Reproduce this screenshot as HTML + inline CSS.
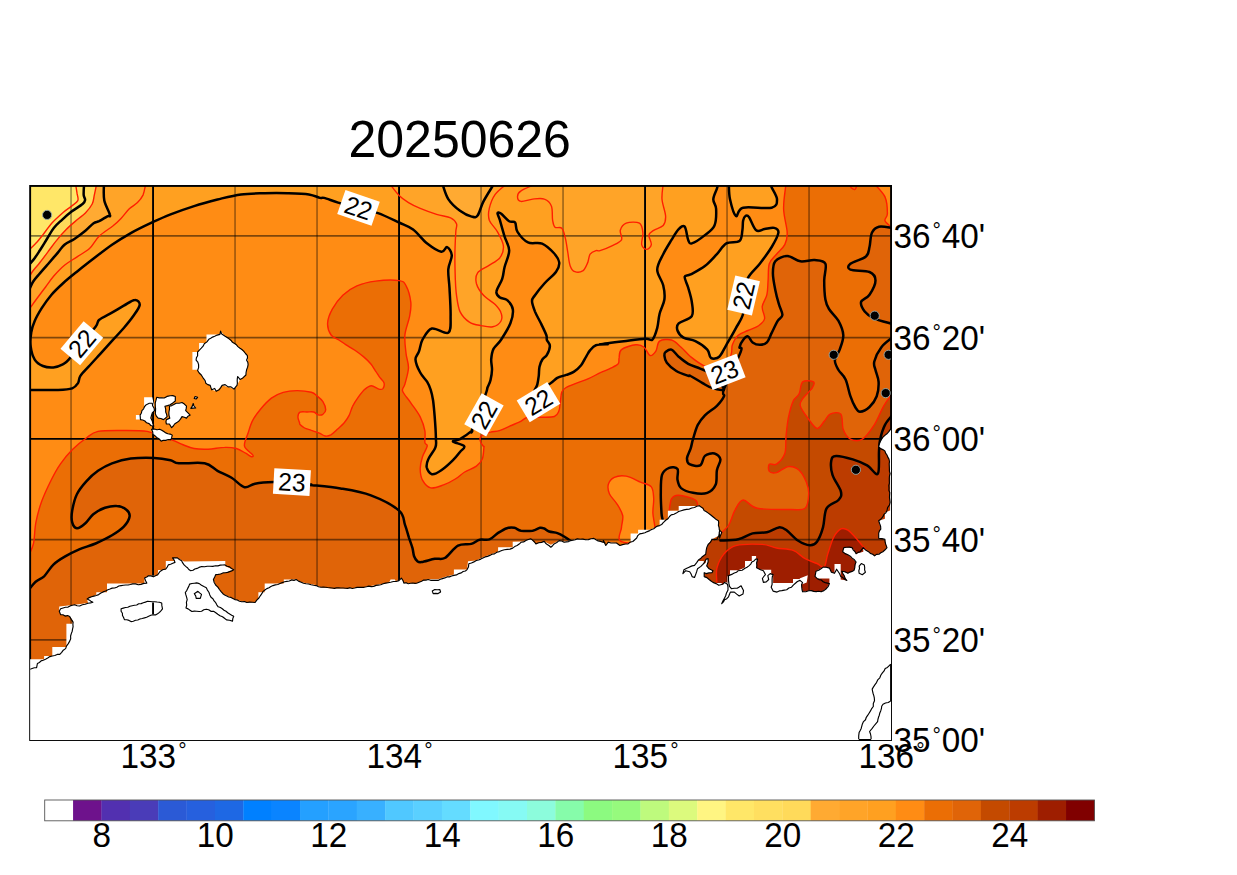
<!DOCTYPE html><html><head><meta charset="utf-8"><title>20250626</title>
<style>html,body{margin:0;padding:0;background:#fff}svg{display:block}text{font-family:"Liberation Sans",Arial,Helvetica,sans-serif;fill:#000}</style></head><body>
<svg width="1237" height="875" viewBox="0 0 1237 875">
<rect width="1237" height="875" fill="#fff"/>
<defs><clipPath id="mc"><rect x="30.15" y="185.95" width="860.9" height="554.05"/></clipPath></defs>
<g clip-path="url(#mc)">
<rect x="30.15" y="185.95" width="860.9" height="554.05" fill="#FF8C14"/>
<path d="M30.0,389.9 C34.7,389.9 51.1,390.2 58.1,389.9 C65.2,389.7 68.9,389.5 72.2,388.3 C75.5,387.1 76.7,385.0 78.1,382.9 C79.4,380.8 78.6,378.6 80.4,375.9 C82.2,373.2 85.3,370.3 88.6,366.7 C91.9,363.0 96.4,358.1 100.3,353.8 C104.2,349.5 108.1,345.2 112.0,340.9 C116.0,336.6 120.2,332.1 123.8,328.0 C127.3,323.9 130.5,320.1 133.1,316.3 C135.8,312.4 139.4,307.8 139.7,305.0 C140.0,302.3 137.4,299.7 134.8,299.9 C132.1,300.0 127.9,303.4 123.8,305.7 C119.6,308.1 113.8,311.6 109.7,313.9 C105.6,316.3 101.5,317.6 99.2,319.8 C96.8,321.9 98.6,323.0 95.6,326.8 C92.7,330.6 86.1,337.3 81.6,342.8 C77.1,348.2 71.8,356.0 68.7,359.6 C65.6,363.2 65.4,363.0 62.8,364.3 C60.3,365.6 56.8,367.1 53.4,367.4 C50.1,367.6 46.0,367.3 42.9,366.0 C39.8,364.7 36.7,362.8 34.7,359.6 C32.7,356.4 31.3,351.2 30.7,346.7 C30.1,342.3 30.5,337.0 31.2,332.7 C31.8,328.4 32.9,325.1 34.7,321.0 C36.4,316.9 39.0,312.4 41.7,308.1 C44.5,303.8 47.6,299.3 51.1,295.2 C54.6,291.1 58.5,287.4 62.8,283.5 C67.1,279.5 71.8,275.8 76.9,271.7 C82.0,267.6 87.4,263.3 93.3,258.8 C99.2,254.3 105.8,249.1 112.0,244.8 C118.3,240.5 124.2,236.8 130.8,233.1 C137.4,229.3 145.3,225.6 151.9,222.5 C158.5,219.4 163.6,217.0 170.6,214.3 C177.7,211.6 186.3,208.6 194.1,206.1 C201.9,203.6 209.7,201.5 217.5,199.5 C225.3,197.6 233.2,195.4 241.0,194.4 C248.8,193.3 256.6,193.4 264.4,193.2 C272.2,193.0 280.4,193.0 287.9,193.2 C295.3,193.4 303.6,193.6 308.9,194.4 C314.3,195.2 317.4,197.3 320.0,197.9 C322.5,198.5 321.0,197.1 324.1,197.9 C327.1,198.7 332.4,200.8 338.1,202.6 C343.9,204.3 351.9,206.7 358.5,208.4 C365.2,210.2 371.2,210.8 378.0,213.1 C384.7,215.5 393.2,219.8 399.1,222.5 C404.9,225.2 408.5,226.0 413.1,229.5 C417.8,233.1 422.5,239.9 427.2,243.6 C431.9,247.3 437.9,251.2 441.3,251.8 C444.6,252.4 445.4,246.5 447.1,247.1 C448.9,247.7 451.6,251.6 451.8,255.3 C452.0,259.0 448.7,263.9 448.3,269.4 C447.9,274.9 449.1,280.3 449.5,288.1 C449.9,296.0 450.8,308.8 450.6,316.3 C450.5,323.7 451.4,330.6 448.3,332.7 C445.2,334.7 436.2,327.3 431.9,328.5 C427.6,329.6 424.7,335.9 422.5,339.7 C420.4,343.5 420.2,348.1 419.0,351.4 C417.8,354.8 415.3,356.1 415.5,359.6 C415.7,363.2 418.2,368.8 420.2,372.5 C422.1,376.2 425.4,379.0 427.2,381.9 C429.0,384.8 429.7,386.8 430.7,389.9 C431.7,393.0 432.4,396.0 433.1,400.5 C433.7,405.0 434.2,410.6 434.7,416.9 C435.2,423.1 435.8,432.9 435.9,438.0 C436.0,443.1 436.7,443.8 435.4,447.4 C434.2,450.9 429.8,455.8 428.4,459.1 C426.9,462.4 426.2,464.7 426.7,467.3 C427.3,469.8 429.5,473.8 431.9,474.3 C434.3,474.8 437.8,472.7 441.3,470.3 C444.8,468.0 449.9,463.3 453.0,460.2 C456.1,457.2 458.1,454.4 460.0,452.0 C461.9,449.7 465.4,447.9 464.2,446.2 C463.1,444.4 453.7,442.7 453.0,441.5 C452.3,440.3 456.9,440.9 460.0,439.2 C463.1,437.4 469.8,432.5 471.7,430.9 C473.7,429.4 469.7,435.9 471.9,429.9 C474.2,423.9 482.7,402.0 485.3,395.0 C487.9,387.9 486.7,390.0 487.5,387.5 C488.4,385.1 489.8,383.1 490.5,380.1 C491.2,377.1 491.9,373.2 492.0,369.7 C492.1,366.2 491.0,362.8 491.2,359.3 C491.5,355.8 491.9,352.1 493.5,348.9 C495.1,345.7 498.1,344.3 500.9,340.0 C503.7,335.7 508.4,328.4 510.4,323.3 C512.4,318.2 513.4,313.1 512.8,309.2 C512.2,305.3 509.1,301.8 506.9,299.9 C504.8,297.9 501.6,298.9 499.9,297.5 C498.1,296.2 496.0,294.8 496.4,291.7 C496.7,288.5 500.9,282.9 502.2,278.8 C503.6,274.7 503.4,271.7 504.6,267.0 C505.7,262.4 509.2,255.7 509.2,250.6 C509.2,245.6 506.1,241.6 504.6,236.6 C503.0,231.5 501.0,224.1 499.9,220.2 C498.7,216.3 497.3,214.2 497.5,213.1 C497.7,212.0 499.1,212.2 501.0,213.6 C503.0,215.0 506.9,219.8 509.2,221.3 C511.6,222.8 513.7,220.7 515.1,222.5 C516.5,224.3 515.3,228.6 517.5,231.9 C519.6,235.2 523.9,240.5 528.0,242.4 C532.1,244.4 537.8,241.8 542.1,243.6 C546.4,245.4 550.9,249.9 553.8,253.0 C556.6,256.1 558.8,259.2 559.2,262.4 C559.6,265.5 558.6,268.2 556.1,271.7 C553.7,275.2 547.9,279.5 544.4,283.5 C540.9,287.4 537.1,292.2 535.0,295.2 C533.0,298.1 532.0,298.3 532.0,301.0 C532.0,303.8 533.6,307.9 535.0,311.6 C536.5,315.3 539.0,319.4 540.9,323.3 C542.8,327.2 545.3,332.2 546.3,335.0 C547.3,337.8 546.3,338.2 546.9,340.0 C547.5,341.8 549.9,343.5 549.9,345.9 C549.9,348.4 548.2,352.6 546.9,354.9 C545.7,357.1 543.7,357.3 542.5,359.3 C541.2,361.3 540.1,364.0 539.5,366.7 C538.9,369.5 539.1,372.7 538.8,375.6 C538.4,378.6 537.9,382.0 537.3,384.6 C536.7,387.2 533.0,391.4 535.1,391.2 C537.2,391.1 546.2,386.0 549.9,383.8 C553.6,381.6 554.6,379.4 557.3,377.9 C560.1,376.4 563.5,375.9 566.2,374.9 C569.0,373.9 571.2,373.5 573.7,371.9 C576.1,370.3 579.0,367.8 581.1,365.2 C583.2,362.6 584.8,358.8 586.3,356.3 C587.8,353.9 588.4,352.3 590.0,350.4 C591.6,348.5 593.0,346.2 595.9,345.2 C598.9,344.2 607.2,344.3 607.8,344.2 C608.5,344.0 597.3,344.8 600.0,344.3 C602.7,343.8 616.3,342.1 623.8,341.2 C631.4,340.3 640.5,339.1 645.3,338.8 C650.1,338.5 650.5,341.3 652.5,339.5 C654.5,337.8 656.0,332.4 657.2,328.1 C658.4,323.8 658.4,318.6 659.6,313.8 C660.8,309.0 663.8,304.2 664.4,299.5 C665.0,294.7 664.4,290.1 663.2,285.2 C662.0,280.2 657.2,274.8 657.2,269.7 C657.2,264.5 660.8,259.1 663.2,254.2 C665.6,249.2 669.0,244.0 671.5,239.9 C674.1,235.7 676.5,231.3 678.7,229.1 C680.9,226.9 683.1,224.9 684.7,226.7 C686.3,228.5 687.0,237.1 688.2,239.9 C689.4,242.6 689.0,244.2 691.8,243.4 C694.6,242.6 701.2,238.1 704.9,235.1 C708.7,232.1 712.6,229.9 714.5,225.5 C716.3,221.2 716.3,213.2 716.1,208.8 C715.9,204.5 713.2,202.7 713.3,199.3 C713.4,195.9 716.1,191.2 716.9,188.6 C717.7,186.0 717.9,184.6 718.1,183.8 L718.1,180.9 L25.1,180.9 L25.1,389.9Z" fill="#FFA020"/>
<path d="M745.5,216.0 C746.5,215.4 747.3,214.8 749.1,217.2 C750.8,219.6 753.6,228.3 756.2,230.3 C758.8,232.3 761.6,229.5 764.6,229.1 C767.5,228.7 771.8,227.3 774.1,227.9 C776.4,228.5 778.8,229.5 778.4,232.7 C778.0,235.9 774.8,241.8 771.7,247.0 C768.6,252.2 763.8,258.5 759.8,263.7 C755.8,268.9 750.6,272.7 747.9,278.0 C745.2,283.3 744.4,289.7 743.6,295.7 C742.8,301.6 744.4,308.4 743.1,313.8 C741.8,319.2 738.7,322.9 735.9,328.1 C733.2,333.3 729.2,340.0 726.4,344.8 C723.6,349.6 721.8,354.5 719.2,356.7 C716.7,358.9 712.9,359.1 710.9,357.9 C708.9,356.7 709.9,352.3 707.3,349.6 C704.7,346.8 699.4,343.2 695.4,341.2 C691.4,339.2 686.5,339.4 683.5,337.6 C680.5,335.8 678.3,332.9 677.5,330.5 C676.7,328.1 676.3,325.7 678.7,323.3 C681.1,320.9 689.6,319.7 691.8,316.2 C694.0,312.6 692.4,306.6 691.8,301.9 C691.2,297.1 689.4,291.7 688.2,287.6 C687.0,283.4 684.3,279.0 684.7,276.8 C685.1,274.6 687.2,276.2 690.6,274.4 C694.0,272.6 700.6,269.5 704.9,266.1 C709.3,262.7 713.3,257.9 716.9,254.2 C720.4,250.4 722.6,245.6 726.4,243.4 C730.2,241.2 736.9,243.2 739.5,241.0 C742.2,238.9 741.8,233.7 742.4,230.3 C743.0,226.9 742.6,223.2 743.1,220.8 C743.6,218.4 744.5,216.6 745.5,216.0Z" fill="#FFA020"/>
<path d="M728.8,183.8 C729.0,186.4 728.8,193.9 730.0,199.3 C731.2,204.7 733.8,214.6 735.9,216.0 C738.1,217.4 737.1,209.0 743.1,207.7 C749.1,206.3 766.1,209.0 771.7,207.7 C777.4,206.3 777.0,202.7 777.0,199.3 C777.0,195.9 772.8,190.0 771.7,187.4 C770.6,184.8 770.7,184.4 770.5,183.8Z" fill="#FFA020"/>
<path d="M145.4,185.5 C145.0,187.1 144.3,192.2 143.0,195.1 C141.6,197.9 139.8,200.3 137.5,202.6 C135.2,204.9 132.0,206.2 129.3,208.8 C126.5,211.4 123.8,215.6 121.0,218.4 C118.3,221.3 116.4,223.0 112.8,226.0 C109.1,228.9 103.0,232.5 99.1,236.2 C95.2,240.0 93.1,245.2 89.5,248.6 C85.8,252.0 81.2,254.1 77.1,256.8 C73.0,259.6 68.7,261.8 64.8,265.0 C60.9,268.2 57.0,272.4 53.8,276.0 C50.6,279.7 48.3,283.3 45.6,287.0 C42.8,290.7 39.9,294.5 37.3,298.0 C34.7,301.5 31.2,306.4 30.0,308.1 L25.1,308.1 L25.1,180.9 L145.4,180.9Z" fill="#FFA428"/>
<path d="M389.7,183.8 C391.3,185.8 396.0,192.4 399.1,195.5 C402.2,198.7 404.9,200.4 408.5,202.6 C412.0,204.7 415.5,206.5 420.2,208.4 C424.9,210.4 431.5,212.7 436.6,214.3 C441.7,215.9 447.3,216.3 450.6,217.8 C454.0,219.4 455.6,221.3 456.5,223.7 C457.4,226.0 456.1,226.6 455.8,231.9 C455.5,237.2 454.9,247.5 454.9,255.3 C454.8,263.1 455.1,272.1 455.3,278.8 C455.6,285.4 455.7,289.7 456.5,295.2 C457.3,300.6 457.9,307.1 460.0,311.6 C462.2,316.1 465.9,319.8 469.4,322.1 C472.9,324.5 477.2,324.9 481.1,325.6 C485.0,326.4 489.5,327.6 492.8,326.8 C496.2,326.0 499.7,323.3 501.0,321.0 C502.4,318.6 502.0,315.5 501.0,312.8 C500.1,310.0 498.1,307.5 495.2,304.5 C492.3,301.6 486.6,298.7 483.5,295.2 C480.3,291.7 477.4,287.2 476.4,283.5 C475.5,279.7 475.7,275.8 477.6,272.9 C479.6,270.0 484.4,268.4 488.2,265.9 C491.9,263.3 497.3,261.0 499.9,257.7 C502.4,254.3 503.8,250.2 503.4,245.9 C503.0,241.6 499.9,236.2 497.5,231.9 C495.2,227.6 490.7,224.1 489.3,220.2 C488.0,216.3 488.3,212.7 489.3,208.4 C490.3,204.1 492.3,198.5 495.2,194.4 C498.1,190.3 505.0,185.6 506.9,183.8Z" fill="#FFA428"/>
<path d="M536.2,183.8 C533.7,185.0 524.1,188.7 521.0,190.9 C517.8,193.0 517.5,195.0 517.5,196.7 C517.5,198.5 518.4,201.0 521.0,201.4 C523.5,201.8 528.8,199.5 532.7,199.1 C536.6,198.7 541.3,197.9 544.4,199.1 C547.5,200.2 550.1,202.6 551.4,206.1 C552.8,209.6 552.0,216.6 552.6,220.2 C553.2,223.7 553.4,225.8 555.0,227.2 C556.5,228.6 560.2,226.4 562.0,228.4 C563.8,230.3 564.5,234.8 565.5,238.9 C566.5,243.0 567.1,248.5 567.9,253.0 C568.6,257.5 569.0,262.7 570.2,265.9 C571.4,269.0 572.7,271.0 574.9,271.7 C577.0,272.5 580.9,272.1 583.1,270.6 C585.2,269.0 586.6,265.1 587.8,262.4 C588.9,259.6 588.8,256.1 590.1,254.2 C591.5,252.2 594.3,251.2 596.0,250.6 C597.6,250.0 597.3,251.4 600.0,250.6 C602.7,249.8 608.3,247.6 611.9,245.8 C615.5,244.0 620.1,242.4 621.5,239.9 C622.9,237.3 619.5,233.1 620.3,230.3 C621.1,227.5 623.1,224.4 626.2,223.2 C629.4,222.0 636.6,221.6 639.4,223.2 C642.1,224.7 642.5,229.1 642.9,232.7 C643.3,236.3 641.1,241.8 641.7,244.6 C642.3,247.4 644.9,249.4 646.5,249.4 C648.1,249.4 650.9,247.0 651.3,244.6 C651.7,242.2 648.5,237.5 648.9,235.1 C649.3,232.7 651.3,231.9 653.7,230.3 C656.0,228.7 661.2,227.9 663.2,225.5 C665.2,223.2 665.8,220.4 665.6,216.0 C665.4,211.6 662.4,204.7 662.0,199.3 C661.6,193.9 663.0,186.4 663.2,183.8Z" fill="#FFA428"/>
<path d="M103.9,185.5 C103.9,188.0 103.3,195.7 104.3,200.6 C105.3,205.5 109.5,212.4 110.0,215.0 C110.6,217.6 109.1,215.3 107.3,216.4 C105.5,217.4 101.4,220.0 99.1,221.2 C96.8,222.3 95.9,221.6 93.6,223.2 C91.3,224.8 88.6,228.1 85.4,230.8 C82.2,233.4 77.8,236.7 74.4,239.0 C71.0,241.3 67.8,242.0 64.8,244.5 C61.8,247.0 59.3,250.9 56.6,254.1 C53.8,257.3 51.3,260.2 48.3,263.7 C45.3,267.1 41.2,271.7 38.7,274.7 C36.2,277.6 34.7,279.2 33.2,281.5 C31.7,283.8 30.4,287.2 29.8,288.4 L25.1,288.4 L25.1,180.9Z" fill="#FFAA32"/>
<path d="M442.4,183.8 C443.4,186.4 445.4,194.6 448.3,199.1 C451.2,203.6 456.1,207.9 460.0,210.8 C463.9,213.7 468.8,215.9 471.7,216.6 C474.7,217.4 475.7,218.0 477.6,215.5 C479.6,212.9 480.7,206.7 483.5,201.4 C486.2,196.1 492.3,186.8 494.0,183.8Z" fill="#FFAA32"/>
<path d="M96.3,185.5 C96.0,187.1 95.0,192.0 94.3,195.1 C93.6,198.2 93.7,201.0 92.2,204.0 C90.7,207.0 87.9,210.3 85.4,212.9 C82.8,215.6 80.3,217.0 77.1,219.8 C73.9,222.5 69.6,226.0 66.2,229.4 C62.7,232.8 59.5,236.7 56.6,240.4 C53.6,244.0 51.1,247.7 48.3,251.3 C45.6,255.0 42.6,259.1 40.1,262.3 C37.6,265.5 34.9,268.2 33.2,270.5 C31.5,272.8 30.4,275.1 29.8,276.0 L25.1,276.0 L25.1,180.9Z" fill="#FFDA5A"/>
<path d="M84.0,185.5 C83.9,187.1 83.5,192.7 83.7,195.1 C83.9,197.5 85.3,198.4 85.1,199.9 C84.9,201.4 84.9,202.1 82.6,204.0 C80.4,205.9 75.1,208.9 71.6,211.6 C68.2,214.2 65.0,217.0 62.0,219.8 C59.1,222.5 56.3,224.8 53.8,228.0 C51.3,231.2 49.2,235.3 46.9,239.0 C44.7,242.6 42.1,246.8 40.1,250.0 C38.0,253.2 36.3,255.9 34.6,258.2 C32.9,260.5 30.6,263.0 29.8,264.0 L25.1,264.0 L25.1,180.9Z" fill="#FFDF60"/>
<path d="M75.8,185.5 C76.0,186.9 76.8,191.2 77.1,193.7 C77.5,196.2 78.7,198.5 77.8,200.6 C76.9,202.6 74.0,204.1 71.6,206.1 C69.2,208.0 66.6,209.5 63.4,212.2 C60.2,215.0 55.9,218.8 52.4,222.5 C49.0,226.3 45.3,231.7 42.8,234.9 C40.3,238.1 39.5,239.3 37.3,241.7 C35.2,244.1 31.1,248.0 29.8,249.3 L25.1,249.3 L25.1,180.9Z" fill="#FFE768"/>
<path d="M28.8,555.2 C29.6,553.2 32.3,548.9 33.5,543.5 C34.7,538.0 34.5,529.4 35.9,522.4 C37.2,515.3 39.2,508.3 41.7,501.3 C44.3,494.2 48.0,486.4 51.1,480.2 C54.2,473.9 57.0,468.8 60.5,463.8 C64.0,458.7 67.9,454.0 72.2,449.7 C76.5,445.4 82.0,441.0 86.3,438.0 C90.6,434.9 91.7,432.7 98.0,431.4 C104.2,430.2 115.6,430.5 123.8,430.5 C132.0,430.5 141.0,430.4 147.2,431.4 C153.5,432.5 157.0,435.3 161.3,436.8 C165.6,438.3 169.5,439.0 173.0,440.3 C176.5,441.6 178.9,443.2 182.4,444.5 C185.9,445.9 189.8,447.7 194.1,448.5 C198.4,449.3 203.1,449.4 208.2,449.2 C213.2,449.0 219.9,447.5 224.6,447.4 C229.2,447.2 232.8,447.6 236.3,448.5 C239.8,449.5 243.1,451.8 245.7,453.2 C248.2,454.6 250.3,456.5 251.5,456.7 C252.7,457.0 253.9,456.6 252.7,454.9 C251.5,453.1 245.3,449.8 244.5,446.2 C243.7,442.6 246.6,437.6 248.0,433.3 C249.4,429.0 250.5,424.5 252.7,420.4 C254.8,416.3 257.8,412.4 260.9,408.7 C264.0,405.0 267.7,400.9 271.4,398.1 C275.2,395.4 278.9,393.5 283.2,392.3 C287.5,391.0 292.5,390.6 297.2,390.6 C301.9,390.6 308.0,391.4 311.3,392.3 C314.6,393.2 315.2,394.4 317.1,396.0 C319.1,397.6 321.4,399.4 322.9,401.7 C324.3,404.0 325.7,407.6 325.7,409.7 C325.7,411.8 324.1,413.4 322.9,414.3 C321.6,415.1 319.8,415.2 318.3,414.9 C316.8,414.5 315.6,412.5 313.7,412.0 C311.8,411.5 309.1,412.0 306.9,412.0 C304.6,412.0 301.5,411.4 300.0,412.2 C298.5,413.0 298.0,415.1 297.9,416.9 C297.9,418.6 299.2,421.5 299.6,422.7 C299.9,424.0 299.2,423.7 300.0,424.6 C300.8,425.4 302.7,427.0 304.6,428.0 C306.5,429.0 309.0,429.4 311.4,430.3 C313.9,431.1 317.1,432.2 319.4,433.1 C321.7,434.1 323.2,435.7 325.1,436.0 C327.0,436.3 328.8,436.0 330.9,434.9 C333.0,433.7 335.4,431.2 337.7,429.1 C340.0,427.0 342.7,424.6 344.6,422.3 C346.5,420.0 347.8,418.1 349.1,415.4 C350.5,412.8 351.0,409.3 352.6,406.3 C354.1,403.2 356.2,400.0 358.3,397.1 C360.4,394.3 363.0,391.0 365.1,389.1 C367.3,387.2 369.1,385.7 371.4,385.7 C373.7,385.7 377.0,388.7 378.9,389.1 C380.8,389.6 382.0,389.6 382.9,388.6 C383.7,387.5 384.5,384.7 384.0,382.9 C383.5,381.0 381.4,379.7 380.0,377.7 C378.6,375.7 377.0,373.1 375.4,370.9 C373.9,368.6 372.8,366.3 370.9,364.0 C369.0,361.7 366.7,359.4 364.0,357.1 C361.3,354.9 357.9,352.4 354.9,350.3 C351.8,348.2 348.4,346.3 345.7,344.6 C343.0,342.9 341.3,341.6 338.9,340.0 C336.4,338.4 333.0,337.8 331.1,335.0 C329.2,332.2 327.4,327.6 327.6,323.3 C327.8,319.0 329.7,313.9 332.3,309.2 C334.8,304.5 338.7,299.1 342.8,295.2 C346.9,291.3 351.4,288.1 356.9,285.8 C362.4,283.5 368.6,282.0 375.6,281.1 C382.7,280.2 394.0,279.9 399.1,280.6 C404.2,281.4 404.2,282.2 406.1,285.8 C408.1,289.4 410.2,297.1 410.8,302.2 C411.4,307.3 410.6,310.8 409.6,316.3 C408.6,321.7 405.5,328.8 404.9,335.0 C404.4,341.3 405.5,348.3 406.1,353.8 C406.7,359.2 408.6,362.8 408.5,367.8 C408.3,372.9 405.9,380.4 404.9,384.2 C404.0,388.1 401.6,388.0 402.6,391.1 C403.6,394.2 407.9,398.5 410.8,402.8 C413.7,407.1 417.8,412.2 420.2,416.9 C422.5,421.6 424.1,426.6 424.9,430.9 C425.6,435.2 424.5,440.1 424.9,442.7 C425.3,445.2 427.6,443.8 427.2,446.2 C426.8,448.5 423.7,453.0 422.5,456.7 C421.3,460.4 420.2,464.5 420.2,468.5 C420.2,472.4 420.8,476.9 422.5,480.2 C424.3,483.4 427.2,487.1 430.7,487.9 C434.2,488.7 439.5,486.3 443.6,484.9 C447.7,483.4 451.8,481.2 455.3,479.0 C458.9,476.9 461.2,474.1 464.7,472.0 C468.2,469.8 473.5,468.3 476.4,466.1 C479.4,464.0 481.0,462.2 482.3,459.1 C483.5,456.0 483.7,449.4 483.9,447.4 C484.2,445.3 484.3,447.7 483.8,446.9 C483.3,446.1 481.5,444.0 480.8,442.5 C480.2,441.0 479.9,439.3 480.1,438.0 C480.3,436.8 480.6,436.0 482.3,435.1 C484.1,434.1 487.7,432.8 490.5,432.1 C493.3,431.3 496.2,431.6 499.4,430.6 C502.6,429.6 506.3,427.6 509.8,426.1 C513.3,424.7 517.2,423.2 520.2,421.7 C523.2,420.2 524.2,418.0 527.6,417.2 C531.1,416.5 536.5,417.4 541.0,417.2 C545.5,417.1 551.4,417.5 554.4,416.5 C557.3,415.5 557.8,413.6 558.8,411.3 C559.8,408.9 559.8,405.6 560.3,402.4 C560.8,399.2 560.8,394.5 561.8,392.0 C562.8,389.5 563.8,389.0 566.2,387.5 C568.7,386.0 572.9,384.6 576.6,383.1 C580.4,381.6 584.6,380.3 588.5,378.6 C592.5,376.9 596.7,374.4 600.4,372.7 C604.1,370.9 607.8,369.7 610.8,368.2 C613.8,366.7 616.8,365.5 618.2,363.8 C619.6,362.0 618.5,360.3 619.1,357.9 C619.6,355.5 618.7,351.7 621.5,349.6 C624.2,347.4 632.0,345.2 635.8,344.8 C639.6,344.4 641.7,345.4 644.1,347.2 C646.5,349.0 648.1,354.9 650.1,355.5 C652.1,356.1 654.5,353.1 656.0,350.8 C657.6,348.4 657.0,343.0 659.6,341.2 C662.2,339.4 668.0,339.0 671.5,340.0 C675.1,341.0 677.9,344.4 681.1,347.2 C684.3,350.0 686.7,353.5 690.6,356.7 C694.6,359.9 699.3,363.7 704.9,366.3 C710.6,368.8 720.1,374.2 724.5,372.2 C728.9,370.2 729.9,358.9 731.2,354.3 C732.5,349.8 731.2,348.0 732.4,344.8 C733.6,341.6 735.7,337.6 738.3,335.3 C740.9,332.9 744.5,332.1 747.9,330.5 C751.2,328.9 755.8,327.7 758.6,325.7 C761.4,323.7 764.0,321.7 764.6,318.6 C765.2,315.4 761.8,310.6 762.2,306.6 C762.6,302.7 766.0,299.1 766.9,294.7 C767.9,290.3 767.7,285.6 768.1,280.4 C768.5,275.2 767.9,268.1 769.3,263.7 C770.7,259.3 773.9,257.3 776.5,254.2 C779.1,251.0 783.0,248.2 784.8,244.6 C786.6,241.0 787.4,238.7 787.2,232.7 C787.0,226.7 783.8,217.0 783.6,208.8 C783.4,200.7 785.6,188.0 786.0,183.8 L896.0,180.9 L896.0,745.0 L25.1,745.0 L25.1,555.2Z" fill="#EB6E05"/>
<path d="M874.3,183.8 C876.1,186.0 882.8,192.0 885.0,196.9 C887.2,201.9 887.4,209.6 887.4,213.6 C887.4,217.6 884.2,218.4 885.0,220.8 C885.8,223.2 891.0,226.7 892.2,227.9 L896.0,180.9Z" fill="#FF8C14"/>
<path d="M608.3,484.5 C609.1,481.7 611.3,478.7 614.3,477.3 C617.3,475.9 621.9,475.3 626.2,476.1 C630.6,476.9 636.4,480.3 640.5,482.1 C644.7,483.9 649.1,484.1 651.3,486.9 C653.5,489.6 653.4,494.4 653.7,498.8 C653.9,503.2 652.7,508.3 652.9,513.1 C653.1,517.9 654.6,522.6 654.9,527.4 C655.1,532.2 659.9,539.3 654.4,541.7 C648.8,544.1 626.9,544.1 621.5,541.7 C616.0,539.3 621.3,531.8 621.5,527.4 C621.7,523.0 623.5,519.5 622.7,515.5 C621.9,511.5 618.9,507.1 616.7,503.6 C614.5,500.0 610.9,497.2 609.5,494.0 C608.1,490.8 607.6,487.3 608.3,484.5Z" fill="#FF8C14"/>
<path d="M26.2,592.9 C27.8,591.1 32.8,584.5 35.7,581.7 C38.7,579.0 41.1,579.1 44.1,576.3 C47.0,573.4 49.9,567.9 53.4,564.6 C57.0,561.2 60.9,558.9 65.2,556.4 C69.5,553.8 74.1,551.5 79.2,549.3 C84.3,547.2 90.2,545.8 95.6,543.5 C101.1,541.1 107.4,538.1 112.0,535.3 C116.7,532.4 120.8,529.7 123.8,526.6 C126.7,523.5 129.2,519.4 129.6,516.5 C130.0,513.7 128.3,511.2 126.1,509.5 C124.0,507.7 120.2,506.2 116.7,506.0 C113.2,505.7 108.9,506.5 105.0,507.8 C101.1,509.2 96.6,511.5 93.3,514.2 C90.0,516.8 87.8,521.2 85.1,523.5 C82.4,525.9 79.0,528.4 76.9,528.2 C74.7,528.0 73.0,525.3 72.2,522.4 C71.4,519.4 71.4,515.3 72.2,510.6 C73.0,506.0 74.5,499.1 76.9,494.2 C79.2,489.4 82.7,485.3 86.3,481.3 C89.8,477.4 93.7,473.8 98.0,470.8 C102.3,467.8 106.6,465.3 112.0,463.3 C117.5,461.3 123.8,459.5 130.8,458.6 C137.8,457.7 147.6,457.6 154.2,457.9 C160.9,458.2 166.5,459.3 170.6,460.2 C174.7,461.1 173.2,462.8 178.9,463.3 C184.5,463.8 198.2,462.0 204.6,463.3 C211.1,464.5 213.0,468.4 217.5,470.8 C222.0,473.2 227.1,475.1 231.6,477.8 C236.1,480.6 240.6,486.2 244.5,487.2 C248.4,488.2 250.2,484.5 255.0,483.7 C259.9,482.8 267.6,482.2 273.8,482.0 C280.0,481.9 285.9,482.1 292.1,482.5 C298.2,482.9 307.8,484.0 310.8,484.4 C313.8,484.8 305.1,484.2 310.0,484.9 C314.9,485.5 330.3,486.6 340.5,488.4 C350.6,490.1 361.2,491.7 370.9,495.4 C380.7,499.1 393.4,505.7 399.1,510.6 C404.8,515.6 403.3,520.3 405.0,524.9 C406.7,529.4 407.9,534.2 409.1,538.1 C410.4,542.0 411.6,545.0 412.5,548.1 C413.3,551.1 413.3,554.1 414.1,556.3 C414.9,558.5 416.2,560.3 417.4,561.3 C418.7,562.3 418.7,562.6 421.6,562.1 C424.5,561.7 431.0,559.5 434.8,558.8 C438.7,558.1 440.9,560.2 444.8,558.0 C448.6,555.8 453.6,547.9 458.0,545.6 C462.4,543.2 467.7,544.9 471.3,543.9 C474.9,542.9 476.5,540.5 479.6,539.8 C482.6,539.0 486.5,540.5 489.5,539.4 C492.5,538.3 494.9,535.0 497.8,533.1 C500.7,531.3 504.1,529.1 506.9,528.2 C509.7,527.3 512.0,527.4 514.4,527.8 C516.7,528.3 518.0,530.2 521.0,530.7 C524.0,531.1 529.4,531.1 532.6,530.7 C535.8,530.2 538.1,528.2 540.0,527.8 C542.0,527.5 542.7,527.9 544.2,528.5 C545.7,529.1 546.9,530.7 549.2,531.5 C551.4,532.3 555.0,532.3 557.4,533.1 C559.9,534.0 562.1,535.3 564.1,536.5 C566.0,537.6 567.8,538.8 569.0,539.8 C570.3,540.7 571.1,541.8 571.5,542.3 L571.5,740.0 L25.1,745.0 L25.1,592.9Z" fill="#E06408"/>
<path d="M665.6,351.9 C666.8,351.0 669.4,348.8 671.5,349.6 C673.7,350.4 675.9,354.3 678.7,356.7 C681.5,359.1 684.7,361.9 688.2,363.9 C691.8,365.9 696.6,367.0 700.2,368.6 C703.7,370.2 705.7,370.0 709.7,373.4 C713.7,376.8 723.6,386.7 724.0,389.1 C724.4,391.5 715.7,388.9 712.1,387.9 C708.5,386.9 706.1,385.1 702.6,383.1 C699.0,381.1 693.0,377.2 690.6,376.0 C688.2,374.7 690.6,376.6 688.2,375.8 C685.9,375.0 679.9,373.2 676.3,371.0 C672.7,368.8 668.8,365.3 666.8,362.7 C664.8,360.1 664.6,357.3 664.4,355.5 C664.2,353.7 664.4,352.9 665.6,351.9Z" fill="#E06408"/>
<path d="M662.5,519.1 C662.3,518.1 661.8,517.3 661.5,513.1 C661.3,508.9 660.7,500.4 660.8,494.0 C660.9,487.7 660.6,479.3 662.0,474.9 C663.4,470.6 666.6,468.8 669.2,467.8 C671.7,466.8 676.1,467.0 677.5,469.0 C678.9,471.0 676.9,476.5 677.5,479.7 C678.1,482.9 678.5,485.9 681.1,488.1 C683.7,490.2 688.6,492.0 693.0,492.8 C697.4,493.6 703.5,494.2 707.3,492.8 C711.1,491.4 714.1,488.3 715.7,484.5 C717.3,480.7 716.1,474.3 716.9,470.2 C717.7,466.0 720.8,462.2 720.4,459.4 C720.0,456.7 717.1,454.1 714.5,453.5 C711.9,452.9 707.3,453.9 704.9,455.9 C702.6,457.8 702.8,464.0 700.2,465.4 C697.6,466.8 691.6,465.4 689.4,464.2 C687.2,463.0 686.9,460.8 687.0,458.2 C687.2,455.7 689.6,451.9 690.6,448.7 C691.6,445.5 691.8,443.1 693.0,439.2 C694.2,435.2 695.8,428.8 697.8,424.9 C699.8,420.9 701.8,418.5 704.9,415.3 C708.1,412.1 713.7,409.0 716.9,405.8 C720.0,402.6 722.8,399.0 724.0,396.2 C725.2,393.5 721.2,396.5 724.0,389.1 C726.8,381.7 738.1,358.9 740.7,351.9 C743.3,345.0 739.1,349.2 739.5,347.2 C739.9,345.2 741.7,341.8 743.1,340.0 C744.5,338.2 746.3,336.0 747.9,336.4 C749.5,336.8 750.6,341.0 752.6,342.4 C754.6,343.8 757.4,344.8 759.8,344.8 C762.2,344.8 765.0,344.4 766.9,342.4 C768.9,340.4 769.9,336.4 771.7,332.9 C773.5,329.3 775.9,323.9 777.7,320.9 C779.5,318.0 782.2,317.8 782.4,315.0 C782.6,312.2 780.1,308.4 778.9,304.2 C777.7,300.1 776.3,295.1 775.3,289.9 C774.3,284.8 772.9,278.0 772.9,273.2 C772.9,268.5 772.9,264.2 775.3,261.3 C777.7,258.5 783.0,256.1 787.2,256.1 C791.4,256.1 795.8,260.6 800.3,261.3 C804.9,262.0 810.5,259.7 814.6,260.1 C818.8,260.5 823.8,260.3 825.4,263.7 C827.0,267.1 824.2,274.4 824.2,280.4 C824.2,286.4 824.6,294.7 825.4,299.5 C826.2,304.2 826.8,305.4 829.0,309.0 C831.1,312.6 836.1,316.6 838.5,320.9 C840.9,325.3 843.1,330.5 843.3,335.3 C843.5,340.0 841.1,345.4 839.7,349.6 C838.3,353.7 835.1,356.9 834.9,360.3 C834.7,363.7 836.7,366.8 838.5,370.0 C840.3,373.2 843.7,375.2 845.6,379.5 C847.6,383.9 848.8,391.7 850.4,396.2 C852.0,400.8 853.6,404.4 855.2,407.0 C856.8,409.6 857.6,411.7 860.0,411.7 C862.3,411.7 866.7,409.6 869.5,407.0 C872.3,404.4 875.1,400.4 876.7,396.2 C878.2,392.1 878.8,386.3 878.6,381.9 C878.4,377.6 876.2,373.4 875.5,370.0 C874.7,366.6 873.3,365.3 874.3,361.5 C875.3,357.7 878.4,351.1 881.4,347.2 C884.4,343.2 890.4,339.2 892.2,337.6 L896.0,745.0 L662.5,740.0Z" fill="#E06408"/>
<path d="M892.2,227.9 C890.0,227.7 882.4,225.9 879.0,226.7 C875.7,227.5 873.5,229.3 871.9,232.7 C870.3,236.1 870.5,243.0 869.5,247.0 C868.5,251.0 869.1,253.8 865.9,256.5 C862.7,259.3 853.0,261.5 850.4,263.7 C847.8,265.9 847.2,268.3 850.4,269.7 C853.6,271.1 865.3,270.3 869.5,272.0 C873.7,273.8 875.5,276.6 875.5,280.4 C875.5,284.2 871.9,291.1 869.5,294.7 C867.1,298.3 861.9,299.1 861.1,301.9 C860.4,304.6 862.5,308.6 864.7,311.4 C866.9,314.2 869.7,316.5 874.3,318.6 C878.8,320.6 889.2,322.9 892.2,323.8 L896.0,180.9Z" fill="#E06408"/>
<path d="M720.4,533.4 C721.8,532.0 726.4,528.8 728.8,525.0 C731.2,521.2 732.4,514.9 734.7,510.7 C737.1,506.5 739.3,500.4 743.1,500.0 C746.9,499.6 749.5,506.7 757.4,508.3 C765.4,509.9 782.8,509.5 790.8,509.5 C798.7,509.5 802.1,510.9 805.1,508.3 C808.1,505.7 808.5,498.4 808.7,494.0 C808.9,489.6 807.9,486.1 806.3,482.1 C804.7,478.1 802.1,472.8 799.1,470.2 C796.2,467.6 792.2,466.2 788.4,466.6 C784.6,467.0 779.7,471.8 776.5,472.6 C773.3,473.3 770.5,472.8 769.3,471.4 C768.1,470.0 768.1,465.4 769.3,464.2 C770.5,463.0 773.9,466.0 776.5,464.2 C779.1,462.4 783.2,458.0 784.8,453.5 C786.4,448.9 785.4,442.7 786.0,436.8 C786.6,430.8 787.2,423.7 788.4,417.7 C789.6,411.7 791.4,405.0 793.2,401.0 C795.0,397.0 797.6,397.0 799.1,393.8 C800.7,390.7 800.3,383.9 802.7,381.9 C805.1,379.9 811.9,380.9 813.5,381.9 C815.0,382.9 814.0,385.1 812.3,387.9 C810.5,390.7 804.7,395.6 802.7,398.6 C800.7,401.6 799.5,402.6 800.3,405.8 C801.1,409.0 804.7,413.9 807.5,417.7 C810.3,421.5 814.2,427.8 817.0,428.4 C819.8,429.0 822.0,423.7 824.2,421.3 C826.4,418.9 827.4,415.3 830.1,414.1 C832.9,412.9 838.7,411.5 840.9,414.1 C843.1,416.7 841.7,425.4 843.3,429.6 C844.9,433.8 847.2,437.6 850.4,439.2 C853.6,440.8 858.4,441.5 862.3,439.2 C866.3,436.8 870.7,430.4 874.3,424.9 C877.8,419.3 880.8,410.9 883.8,405.8 C886.8,400.6 890.8,395.8 892.2,393.8 L896.0,745.0 L695.0,740.0 L695.0,533.4Z" fill="#C44A00"/>
<path d="M669.2,510.7 C669.6,508.7 670.0,501.4 671.5,498.8 C673.1,496.2 674.7,495.0 678.7,495.2 C682.7,495.4 692.2,497.8 695.4,500.0 C698.6,502.2 697.4,506.9 697.8,508.3Z" fill="#C44A00"/>
<path d="M720.4,540.5 C723.4,540.3 733.0,540.5 738.3,539.3 C743.7,538.1 747.9,534.6 752.6,533.4 C757.4,532.2 762.6,533.2 766.9,532.2 C771.3,531.2 775.7,527.8 778.9,527.4 C782.0,527.0 782.8,527.6 786.0,529.8 C789.2,532.0 794.0,537.9 797.9,540.5 C801.9,543.1 806.7,545.1 809.9,545.3 C813.1,545.5 814.8,544.7 817.0,541.7 C819.2,538.7 821.4,533.0 823.0,527.4 C824.6,521.8 824.0,512.9 826.6,508.3 C829.2,503.8 836.1,502.8 838.5,500.0 C840.9,497.2 841.9,495.8 840.9,491.6 C839.9,487.5 834.1,480.1 832.5,474.9 C830.9,469.8 830.7,463.8 831.3,460.6 C831.9,457.4 832.5,456.1 836.1,455.9 C839.7,455.7 847.6,457.8 852.8,459.4 C858.0,461.0 862.9,463.0 867.1,465.4 C871.3,467.8 875.9,476.1 877.8,473.7 C879.8,471.4 878.6,456.9 879.0,451.1 C879.4,445.3 879.2,443.5 880.2,439.2 C881.2,434.8 883.0,428.8 885.0,424.9 C887.0,420.9 891.0,416.9 892.2,415.3 L896.0,745.0 L695.0,740.0 L695.0,540.5Z" fill="#BC3C00"/>
<path d="M716.9,582.6 C716.9,580.2 715.7,573.0 716.9,568.2 C718.1,563.5 720.8,557.7 724.0,553.9 C727.2,550.2 729.6,547.2 735.9,545.6 C742.3,544.0 755.4,544.0 762.2,544.4 C768.9,544.8 771.3,547.0 776.5,548.0 C781.7,549.0 788.4,548.6 793.2,550.4 C797.9,552.1 801.1,556.5 805.1,558.7 C809.1,560.9 813.8,562.1 817.0,563.5 C820.2,564.9 822.4,568.6 824.2,567.0 C826.0,565.5 826.2,558.9 827.8,553.9 C829.4,549.0 831.5,541.4 833.7,537.2 C835.9,533.1 838.5,530.1 840.9,528.9 C843.3,527.7 845.6,528.7 848.0,530.1 C850.4,531.5 852.8,534.7 855.2,537.2 C857.6,539.8 860.6,543.6 862.3,545.6 C864.1,547.6 865.3,548.6 865.9,549.2 L865.9,740.0 L716.9,740.0Z" fill="#9E1E00"/>
<g stroke="#000" fill="none">
<path d="M71.05,185.95V740.0" stroke-width="1.9" stroke-opacity="0.33"/>
<path d="M235.05,185.95V740.0" stroke-width="1.9" stroke-opacity="0.33"/>
<path d="M317.05,185.95V740.0" stroke-width="1.9" stroke-opacity="0.33"/>
<path d="M481.05,185.95V740.0" stroke-width="1.9" stroke-opacity="0.33"/>
<path d="M563.05,185.95V740.0" stroke-width="1.9" stroke-opacity="0.33"/>
<path d="M727.05,185.95V740.0" stroke-width="1.9" stroke-opacity="0.33"/>
<path d="M809.05,185.95V740.0" stroke-width="1.9" stroke-opacity="0.33"/>
<path d="M30.15,235.9H891.05" stroke-width="1.8" stroke-opacity="0.5"/>
<path d="M30.15,337.6H891.05" stroke-width="1.8" stroke-opacity="0.5"/>
<path d="M30.15,539.7H891.05" stroke-width="1.8" stroke-opacity="0.5"/>
<path d="M30.15,639.95H891.05" stroke-width="1.8" stroke-opacity="0.5"/>
<path d="M153.05,185.95V740.0" stroke-width="1.9"/>
<path d="M399.05,185.95V740.0" stroke-width="1.9"/>
<path d="M645.05,185.95V740.0" stroke-width="1.9"/>
<path d="M30.15,438.9H891.05" stroke-width="1.8"/>
</g>
<path d="M849.5,185.0 C849.8,185.5 850.6,187.2 851.5,188.0 C852.4,188.8 854.1,190.0 855.0,189.5 C855.9,189.0 856.7,185.8 857.0,185.0" fill="none" stroke="#ff1e00" stroke-width="1.4" stroke-linejoin="round"/>
<path d="M75.8,185.5 C76.0,186.9 76.8,191.2 77.1,193.7 C77.5,196.2 78.7,198.5 77.8,200.6 C76.9,202.6 74.0,204.1 71.6,206.1 C69.2,208.0 66.6,209.5 63.4,212.2 C60.2,215.0 55.9,218.8 52.4,222.5 C49.0,226.3 45.3,231.7 42.8,234.9 C40.3,238.1 39.5,239.3 37.3,241.7 C35.2,244.1 31.1,248.0 29.8,249.3" fill="none" stroke="#ff1e00" stroke-width="1.4" stroke-linejoin="round"/>
<path d="M96.3,185.5 C96.0,187.1 95.0,192.0 94.3,195.1 C93.6,198.2 93.7,201.0 92.2,204.0 C90.7,207.0 87.9,210.3 85.4,212.9 C82.8,215.6 80.3,217.0 77.1,219.8 C73.9,222.5 69.6,226.0 66.2,229.4 C62.7,232.8 59.5,236.7 56.6,240.4 C53.6,244.0 51.1,247.7 48.3,251.3 C45.6,255.0 42.6,259.1 40.1,262.3 C37.6,265.5 34.9,268.2 33.2,270.5 C31.5,272.8 30.4,275.1 29.8,276.0" fill="none" stroke="#ff1e00" stroke-width="1.4" stroke-linejoin="round"/>
<path d="M145.4,185.5 C145.0,187.1 144.3,192.2 143.0,195.1 C141.6,197.9 139.8,200.3 137.5,202.6 C135.2,204.9 132.0,206.2 129.3,208.8 C126.5,211.4 123.8,215.6 121.0,218.4 C118.3,221.3 116.4,223.0 112.8,226.0 C109.1,228.9 103.0,232.5 99.1,236.2 C95.2,240.0 93.1,245.2 89.5,248.6 C85.8,252.0 81.2,254.1 77.1,256.8 C73.0,259.6 68.7,261.8 64.8,265.0 C60.9,268.2 57.0,272.4 53.8,276.0 C50.6,279.7 48.3,283.3 45.6,287.0 C42.8,290.7 39.9,294.5 37.3,298.0 C34.7,301.5 31.2,306.4 30.0,308.1" fill="none" stroke="#ff1e00" stroke-width="1.4" stroke-linejoin="round"/>
<path d="M389.7,183.8 C391.3,185.8 396.0,192.4 399.1,195.5 C402.2,198.7 404.9,200.4 408.5,202.6 C412.0,204.7 415.5,206.5 420.2,208.4 C424.9,210.4 431.5,212.7 436.6,214.3 C441.7,215.9 447.3,216.3 450.6,217.8 C454.0,219.4 455.6,221.3 456.5,223.7 C457.4,226.0 456.1,226.6 455.8,231.9 C455.5,237.2 454.9,247.5 454.9,255.3 C454.8,263.1 455.1,272.1 455.3,278.8 C455.6,285.4 455.7,289.7 456.5,295.2 C457.3,300.6 457.9,307.1 460.0,311.6 C462.2,316.1 465.9,319.8 469.4,322.1 C472.9,324.5 477.2,324.9 481.1,325.6 C485.0,326.4 489.5,327.6 492.8,326.8 C496.2,326.0 499.7,323.3 501.0,321.0 C502.4,318.6 502.0,315.5 501.0,312.8 C500.1,310.0 498.1,307.5 495.2,304.5 C492.3,301.6 486.6,298.7 483.5,295.2 C480.3,291.7 477.4,287.2 476.4,283.5 C475.5,279.7 475.7,275.8 477.6,272.9 C479.6,270.0 484.4,268.4 488.2,265.9 C491.9,263.3 497.3,261.0 499.9,257.7 C502.4,254.3 503.8,250.2 503.4,245.9 C503.0,241.6 499.9,236.2 497.5,231.9 C495.2,227.6 490.7,224.1 489.3,220.2 C488.0,216.3 488.3,212.7 489.3,208.4 C490.3,204.1 492.3,198.5 495.2,194.4 C498.1,190.3 505.0,185.6 506.9,183.8" fill="none" stroke="#ff1e00" stroke-width="1.4" stroke-linejoin="round"/>
<path d="M536.2,183.8 C533.7,185.0 524.1,188.7 521.0,190.9 C517.8,193.0 517.5,195.0 517.5,196.7 C517.5,198.5 518.4,201.0 521.0,201.4 C523.5,201.8 528.8,199.5 532.7,199.1 C536.6,198.7 541.3,197.9 544.4,199.1 C547.5,200.2 550.1,202.6 551.4,206.1 C552.8,209.6 552.0,216.6 552.6,220.2 C553.2,223.7 553.4,225.8 555.0,227.2 C556.5,228.6 560.2,226.4 562.0,228.4 C563.8,230.3 564.5,234.8 565.5,238.9 C566.5,243.0 567.1,248.5 567.9,253.0 C568.6,257.5 569.0,262.7 570.2,265.9 C571.4,269.0 572.7,271.0 574.9,271.7 C577.0,272.5 580.9,272.1 583.1,270.6 C585.2,269.0 586.6,265.1 587.8,262.4 C588.9,259.6 588.8,256.1 590.1,254.2 C591.5,252.2 594.3,251.2 596.0,250.6 C597.6,250.0 597.3,251.4 600.0,250.6 C602.7,249.8 608.3,247.6 611.9,245.8 C615.5,244.0 620.1,242.4 621.5,239.9 C622.9,237.3 619.5,233.1 620.3,230.3 C621.1,227.5 623.1,224.4 626.2,223.2 C629.4,222.0 636.6,221.6 639.4,223.2 C642.1,224.7 642.5,229.1 642.9,232.7 C643.3,236.3 641.1,241.8 641.7,244.6 C642.3,247.4 644.9,249.4 646.5,249.4 C648.1,249.4 650.9,247.0 651.3,244.6 C651.7,242.2 648.5,237.5 648.9,235.1 C649.3,232.7 651.3,231.9 653.7,230.3 C656.0,228.7 661.2,227.9 663.2,225.5 C665.2,223.2 665.8,220.4 665.6,216.0 C665.4,211.6 662.4,204.7 662.0,199.3 C661.6,193.9 663.0,186.4 663.2,183.8" fill="none" stroke="#ff1e00" stroke-width="1.4" stroke-linejoin="round"/>
<path d="M28.8,555.2 C29.6,553.2 32.3,548.9 33.5,543.5 C34.7,538.0 34.5,529.4 35.9,522.4 C37.2,515.3 39.2,508.3 41.7,501.3 C44.3,494.2 48.0,486.4 51.1,480.2 C54.2,473.9 57.0,468.8 60.5,463.8 C64.0,458.7 67.9,454.0 72.2,449.7 C76.5,445.4 82.0,441.0 86.3,438.0 C90.6,434.9 91.7,432.7 98.0,431.4 C104.2,430.2 115.6,430.5 123.8,430.5 C132.0,430.5 141.0,430.4 147.2,431.4 C153.5,432.5 157.0,435.3 161.3,436.8 C165.6,438.3 169.5,439.0 173.0,440.3 C176.5,441.6 178.9,443.2 182.4,444.5 C185.9,445.9 189.8,447.7 194.1,448.5 C198.4,449.3 203.1,449.4 208.2,449.2 C213.2,449.0 219.9,447.5 224.6,447.4 C229.2,447.2 232.8,447.6 236.3,448.5 C239.8,449.5 243.1,451.8 245.7,453.2 C248.2,454.6 250.3,456.5 251.5,456.7 C252.7,457.0 253.9,456.6 252.7,454.9 C251.5,453.1 245.3,449.8 244.5,446.2 C243.7,442.6 246.6,437.6 248.0,433.3 C249.4,429.0 250.5,424.5 252.7,420.4 C254.8,416.3 257.8,412.4 260.9,408.7 C264.0,405.0 267.7,400.9 271.4,398.1 C275.2,395.4 278.9,393.5 283.2,392.3 C287.5,391.0 292.5,390.6 297.2,390.6 C301.9,390.6 308.0,391.4 311.3,392.3 C314.6,393.2 315.2,394.4 317.1,396.0 C319.1,397.6 321.4,399.4 322.9,401.7 C324.3,404.0 325.7,407.6 325.7,409.7 C325.7,411.8 324.1,413.4 322.9,414.3 C321.6,415.1 319.8,415.2 318.3,414.9 C316.8,414.5 315.6,412.5 313.7,412.0 C311.8,411.5 309.1,412.0 306.9,412.0 C304.6,412.0 301.5,411.4 300.0,412.2 C298.5,413.0 298.0,415.1 297.9,416.9 C297.9,418.6 299.2,421.5 299.6,422.7 C299.9,424.0 299.2,423.7 300.0,424.6 C300.8,425.4 302.7,427.0 304.6,428.0 C306.5,429.0 309.0,429.4 311.4,430.3 C313.9,431.1 317.1,432.2 319.4,433.1 C321.7,434.1 323.2,435.7 325.1,436.0 C327.0,436.3 328.8,436.0 330.9,434.9 C333.0,433.7 335.4,431.2 337.7,429.1 C340.0,427.0 342.7,424.6 344.6,422.3 C346.5,420.0 347.8,418.1 349.1,415.4 C350.5,412.8 351.0,409.3 352.6,406.3 C354.1,403.2 356.2,400.0 358.3,397.1 C360.4,394.3 363.0,391.0 365.1,389.1 C367.3,387.2 369.1,385.7 371.4,385.7 C373.7,385.7 377.0,388.7 378.9,389.1 C380.8,389.6 382.0,389.6 382.9,388.6 C383.7,387.5 384.5,384.7 384.0,382.9 C383.5,381.0 381.4,379.7 380.0,377.7 C378.6,375.7 377.0,373.1 375.4,370.9 C373.9,368.6 372.8,366.3 370.9,364.0 C369.0,361.7 366.7,359.4 364.0,357.1 C361.3,354.9 357.9,352.4 354.9,350.3 C351.8,348.2 348.4,346.3 345.7,344.6 C343.0,342.9 341.3,341.6 338.9,340.0 C336.4,338.4 333.0,337.8 331.1,335.0 C329.2,332.2 327.4,327.6 327.6,323.3 C327.8,319.0 329.7,313.9 332.3,309.2 C334.8,304.5 338.7,299.1 342.8,295.2 C346.9,291.3 351.4,288.1 356.9,285.8 C362.4,283.5 368.6,282.0 375.6,281.1 C382.7,280.2 394.0,279.9 399.1,280.6 C404.2,281.4 404.2,282.2 406.1,285.8 C408.1,289.4 410.2,297.1 410.8,302.2 C411.4,307.3 410.6,310.8 409.6,316.3 C408.6,321.7 405.5,328.8 404.9,335.0 C404.4,341.3 405.5,348.3 406.1,353.8 C406.7,359.2 408.6,362.8 408.5,367.8 C408.3,372.9 405.9,380.4 404.9,384.2 C404.0,388.1 401.6,388.0 402.6,391.1 C403.6,394.2 407.9,398.5 410.8,402.8 C413.7,407.1 417.8,412.2 420.2,416.9 C422.5,421.6 424.1,426.6 424.9,430.9 C425.6,435.2 424.5,440.1 424.9,442.7 C425.3,445.2 427.6,443.8 427.2,446.2 C426.8,448.5 423.7,453.0 422.5,456.7 C421.3,460.4 420.2,464.5 420.2,468.5 C420.2,472.4 420.8,476.9 422.5,480.2 C424.3,483.4 427.2,487.1 430.7,487.9 C434.2,488.7 439.5,486.3 443.6,484.9 C447.7,483.4 451.8,481.2 455.3,479.0 C458.9,476.9 461.2,474.1 464.7,472.0 C468.2,469.8 473.5,468.3 476.4,466.1 C479.4,464.0 481.0,462.2 482.3,459.1 C483.5,456.0 483.7,449.4 483.9,447.4 C484.2,445.3 484.3,447.7 483.8,446.9 C483.3,446.1 481.5,444.0 480.8,442.5 C480.2,441.0 479.9,439.3 480.1,438.0 C480.3,436.8 480.6,436.0 482.3,435.1 C484.1,434.1 487.7,432.8 490.5,432.1 C493.3,431.3 496.2,431.6 499.4,430.6 C502.6,429.6 506.3,427.6 509.8,426.1 C513.3,424.7 517.2,423.2 520.2,421.7 C523.2,420.2 524.2,418.0 527.6,417.2 C531.1,416.5 536.5,417.4 541.0,417.2 C545.5,417.1 551.4,417.5 554.4,416.5 C557.3,415.5 557.8,413.6 558.8,411.3 C559.8,408.9 559.8,405.6 560.3,402.4 C560.8,399.2 560.8,394.5 561.8,392.0 C562.8,389.5 563.8,389.0 566.2,387.5 C568.7,386.0 572.9,384.6 576.6,383.1 C580.4,381.6 584.6,380.3 588.5,378.6 C592.5,376.9 596.7,374.4 600.4,372.7 C604.1,370.9 607.8,369.7 610.8,368.2 C613.8,366.7 616.8,365.5 618.2,363.8 C619.6,362.0 618.5,360.3 619.1,357.9 C619.6,355.5 618.7,351.7 621.5,349.6 C624.2,347.4 632.0,345.2 635.8,344.8 C639.6,344.4 641.7,345.4 644.1,347.2 C646.5,349.0 648.1,354.9 650.1,355.5 C652.1,356.1 654.5,353.1 656.0,350.8 C657.6,348.4 657.0,343.0 659.6,341.2 C662.2,339.4 668.0,339.0 671.5,340.0 C675.1,341.0 677.9,344.4 681.1,347.2 C684.3,350.0 686.7,353.5 690.6,356.7 C694.6,359.9 699.3,363.7 704.9,366.3 C710.6,368.8 720.1,374.2 724.5,372.2 C728.9,370.2 729.9,358.9 731.2,354.3 C732.5,349.8 731.2,348.0 732.4,344.8 C733.6,341.6 735.7,337.6 738.3,335.3 C740.9,332.9 744.5,332.1 747.9,330.5 C751.2,328.9 755.8,327.7 758.6,325.7 C761.4,323.7 764.0,321.7 764.6,318.6 C765.2,315.4 761.8,310.6 762.2,306.6 C762.6,302.7 766.0,299.1 766.9,294.7 C767.9,290.3 767.7,285.6 768.1,280.4 C768.5,275.2 767.9,268.1 769.3,263.7 C770.7,259.3 773.9,257.3 776.5,254.2 C779.1,251.0 783.0,248.2 784.8,244.6 C786.6,241.0 787.4,238.7 787.2,232.7 C787.0,226.7 783.8,217.0 783.6,208.8 C783.4,200.7 785.6,188.0 786.0,183.8" fill="none" stroke="#ff1e00" stroke-width="1.4" stroke-linejoin="round"/>
<path d="M874.3,183.8 C876.1,186.0 882.8,192.0 885.0,196.9 C887.2,201.9 887.4,209.6 887.4,213.6 C887.4,217.6 884.2,218.4 885.0,220.8 C885.8,223.2 891.0,226.7 892.2,227.9" fill="none" stroke="#ff1e00" stroke-width="1.4" stroke-linejoin="round"/>
<path d="M608.3,484.5 C609.1,481.7 611.3,478.7 614.3,477.3 C617.3,475.9 621.9,475.3 626.2,476.1 C630.6,476.9 636.4,480.3 640.5,482.1 C644.7,483.9 649.1,484.1 651.3,486.9 C653.5,489.6 653.4,494.4 653.7,498.8 C653.9,503.2 652.7,508.3 652.9,513.1 C653.1,517.9 654.6,522.6 654.9,527.4 C655.1,532.2 659.9,539.3 654.4,541.7 C648.8,544.1 626.9,544.1 621.5,541.7 C616.0,539.3 621.3,531.8 621.5,527.4 C621.7,523.0 623.5,519.5 622.7,515.5 C621.9,511.5 618.9,507.1 616.7,503.6 C614.5,500.0 610.9,497.2 609.5,494.0 C608.1,490.8 607.6,487.3 608.3,484.5Z" fill="none" stroke="#ff1e00" stroke-width="1.4" stroke-linejoin="round"/>
<path d="M720.4,533.4 C721.8,532.0 726.4,528.8 728.8,525.0 C731.2,521.2 732.4,514.9 734.7,510.7 C737.1,506.5 739.3,500.4 743.1,500.0 C746.9,499.6 749.5,506.7 757.4,508.3 C765.4,509.9 782.8,509.5 790.8,509.5 C798.7,509.5 802.1,510.9 805.1,508.3 C808.1,505.7 808.5,498.4 808.7,494.0 C808.9,489.6 807.9,486.1 806.3,482.1 C804.7,478.1 802.1,472.8 799.1,470.2 C796.2,467.6 792.2,466.2 788.4,466.6 C784.6,467.0 779.7,471.8 776.5,472.6 C773.3,473.3 770.5,472.8 769.3,471.4 C768.1,470.0 768.1,465.4 769.3,464.2 C770.5,463.0 773.9,466.0 776.5,464.2 C779.1,462.4 783.2,458.0 784.8,453.5 C786.4,448.9 785.4,442.7 786.0,436.8 C786.6,430.8 787.2,423.7 788.4,417.7 C789.6,411.7 791.4,405.0 793.2,401.0 C795.0,397.0 797.6,397.0 799.1,393.8 C800.7,390.7 800.3,383.9 802.7,381.9 C805.1,379.9 811.9,380.9 813.5,381.9 C815.0,382.9 814.0,385.1 812.3,387.9 C810.5,390.7 804.7,395.6 802.7,398.6 C800.7,401.6 799.5,402.6 800.3,405.8 C801.1,409.0 804.7,413.9 807.5,417.7 C810.3,421.5 814.2,427.8 817.0,428.4 C819.8,429.0 822.0,423.7 824.2,421.3 C826.4,418.9 827.4,415.3 830.1,414.1 C832.9,412.9 838.7,411.5 840.9,414.1 C843.1,416.7 841.7,425.4 843.3,429.6 C844.9,433.8 847.2,437.6 850.4,439.2 C853.6,440.8 858.4,441.5 862.3,439.2 C866.3,436.8 870.7,430.4 874.3,424.9 C877.8,419.3 880.8,410.9 883.8,405.8 C886.8,400.6 890.8,395.8 892.2,393.8" fill="none" stroke="#ff1e00" stroke-width="1.4" stroke-linejoin="round"/>
<path d="M669.2,510.7 C669.6,508.7 670.0,501.4 671.5,498.8 C673.1,496.2 674.7,495.0 678.7,495.2 C682.7,495.4 692.2,497.8 695.4,500.0 C698.6,502.2 697.4,506.9 697.8,508.3" fill="none" stroke="#ff1e00" stroke-width="1.4" stroke-linejoin="round"/>
<path d="M716.9,582.6 C716.9,580.2 715.7,573.0 716.9,568.2 C718.1,563.5 720.8,557.7 724.0,553.9 C727.2,550.2 729.6,547.2 735.9,545.6 C742.3,544.0 755.4,544.0 762.2,544.4 C768.9,544.8 771.3,547.0 776.5,548.0 C781.7,549.0 788.4,548.6 793.2,550.4 C797.9,552.1 801.1,556.5 805.1,558.7 C809.1,560.9 813.8,562.1 817.0,563.5 C820.2,564.9 822.4,568.6 824.2,567.0 C826.0,565.5 826.2,558.9 827.8,553.9 C829.4,549.0 831.5,541.4 833.7,537.2 C835.9,533.1 838.5,530.1 840.9,528.9 C843.3,527.7 845.6,528.7 848.0,530.1 C850.4,531.5 852.8,534.7 855.2,537.2 C857.6,539.8 860.6,543.6 862.3,545.6 C864.1,547.6 865.3,548.6 865.9,549.2" fill="none" stroke="#ff1e00" stroke-width="1.4" stroke-linejoin="round"/>
<path d="M84.0,185.5 C83.9,187.1 83.5,192.7 83.7,195.1 C83.9,197.5 85.3,198.4 85.1,199.9 C84.9,201.4 84.9,202.1 82.6,204.0 C80.4,205.9 75.1,208.9 71.6,211.6 C68.2,214.2 65.0,217.0 62.0,219.8 C59.1,222.5 56.3,224.8 53.8,228.0 C51.3,231.2 49.2,235.3 46.9,239.0 C44.7,242.6 42.1,246.8 40.1,250.0 C38.0,253.2 36.3,255.9 34.6,258.2 C32.9,260.5 30.6,263.0 29.8,264.0" fill="none" stroke="#000" stroke-width="2.5" stroke-linejoin="round" stroke-linecap="round"/>
<path d="M103.9,185.5 C103.9,188.0 103.3,195.7 104.3,200.6 C105.3,205.5 109.5,212.4 110.0,215.0 C110.6,217.6 109.1,215.3 107.3,216.4 C105.5,217.4 101.4,220.0 99.1,221.2 C96.8,222.3 95.9,221.6 93.6,223.2 C91.3,224.8 88.6,228.1 85.4,230.8 C82.2,233.4 77.8,236.7 74.4,239.0 C71.0,241.3 67.8,242.0 64.8,244.5 C61.8,247.0 59.3,250.9 56.6,254.1 C53.8,257.3 51.3,260.2 48.3,263.7 C45.3,267.1 41.2,271.7 38.7,274.7 C36.2,277.6 34.7,279.2 33.2,281.5 C31.7,283.8 30.4,287.2 29.8,288.4" fill="none" stroke="#000" stroke-width="2.5" stroke-linejoin="round" stroke-linecap="round"/>
<path d="M442.4,183.8 C443.4,186.4 445.4,194.6 448.3,199.1 C451.2,203.6 456.1,207.9 460.0,210.8 C463.9,213.7 468.8,215.9 471.7,216.6 C474.7,217.4 475.7,218.0 477.6,215.5 C479.6,212.9 480.7,206.7 483.5,201.4 C486.2,196.1 492.3,186.8 494.0,183.8" fill="none" stroke="#000" stroke-width="2.5" stroke-linejoin="round" stroke-linecap="round"/>
<path d="M30.0,389.9 C34.7,389.9 51.1,390.2 58.1,389.9 C65.2,389.7 68.9,389.5 72.2,388.3 C75.5,387.1 76.7,385.0 78.1,382.9 C79.4,380.8 78.6,378.6 80.4,375.9 C82.2,373.2 85.3,370.3 88.6,366.7 C91.9,363.0 96.4,358.1 100.3,353.8 C104.2,349.5 108.1,345.2 112.0,340.9 C116.0,336.6 120.2,332.1 123.8,328.0 C127.3,323.9 130.5,320.1 133.1,316.3 C135.8,312.4 139.4,307.8 139.7,305.0 C140.0,302.3 137.4,299.7 134.8,299.9 C132.1,300.0 127.9,303.4 123.8,305.7 C119.6,308.1 113.8,311.6 109.7,313.9 C105.6,316.3 101.5,317.6 99.2,319.8 C96.8,321.9 98.6,323.0 95.6,326.8 C92.7,330.6 86.1,337.3 81.6,342.8 C77.1,348.2 71.8,356.0 68.7,359.6 C65.6,363.2 65.4,363.0 62.8,364.3 C60.3,365.6 56.8,367.1 53.4,367.4 C50.1,367.6 46.0,367.3 42.9,366.0 C39.8,364.7 36.7,362.8 34.7,359.6 C32.7,356.4 31.3,351.2 30.7,346.7 C30.1,342.3 30.5,337.0 31.2,332.7 C31.8,328.4 32.9,325.1 34.7,321.0 C36.4,316.9 39.0,312.4 41.7,308.1 C44.5,303.8 47.6,299.3 51.1,295.2 C54.6,291.1 58.5,287.4 62.8,283.5 C67.1,279.5 71.8,275.8 76.9,271.7 C82.0,267.6 87.4,263.3 93.3,258.8 C99.2,254.3 105.8,249.1 112.0,244.8 C118.3,240.5 124.2,236.8 130.8,233.1 C137.4,229.3 145.3,225.6 151.9,222.5 C158.5,219.4 163.6,217.0 170.6,214.3 C177.7,211.6 186.3,208.6 194.1,206.1 C201.9,203.6 209.7,201.5 217.5,199.5 C225.3,197.6 233.2,195.4 241.0,194.4 C248.8,193.3 256.6,193.4 264.4,193.2 C272.2,193.0 280.4,193.0 287.9,193.2 C295.3,193.4 303.6,193.6 308.9,194.4 C314.3,195.2 317.4,197.3 320.0,197.9 C322.5,198.5 321.0,197.1 324.1,197.9 C327.1,198.7 332.4,200.8 338.1,202.6 C343.9,204.3 351.9,206.7 358.5,208.4 C365.2,210.2 371.2,210.8 378.0,213.1 C384.7,215.5 393.2,219.8 399.1,222.5 C404.9,225.2 408.5,226.0 413.1,229.5 C417.8,233.1 422.5,239.9 427.2,243.6 C431.9,247.3 437.9,251.2 441.3,251.8 C444.6,252.4 445.4,246.5 447.1,247.1 C448.9,247.7 451.6,251.6 451.8,255.3 C452.0,259.0 448.7,263.9 448.3,269.4 C447.9,274.9 449.1,280.3 449.5,288.1 C449.9,296.0 450.8,308.8 450.6,316.3 C450.5,323.7 451.4,330.6 448.3,332.7 C445.2,334.7 436.2,327.3 431.9,328.5 C427.6,329.6 424.7,335.9 422.5,339.7 C420.4,343.5 420.2,348.1 419.0,351.4 C417.8,354.8 415.3,356.1 415.5,359.6 C415.7,363.2 418.2,368.8 420.2,372.5 C422.1,376.2 425.4,379.0 427.2,381.9 C429.0,384.8 429.7,386.8 430.7,389.9 C431.7,393.0 432.4,396.0 433.1,400.5 C433.7,405.0 434.2,410.6 434.7,416.9 C435.2,423.1 435.8,432.9 435.9,438.0 C436.0,443.1 436.7,443.8 435.4,447.4 C434.2,450.9 429.8,455.8 428.4,459.1 C426.9,462.4 426.2,464.7 426.7,467.3 C427.3,469.8 429.5,473.8 431.9,474.3 C434.3,474.8 437.8,472.7 441.3,470.3 C444.8,468.0 449.9,463.3 453.0,460.2 C456.1,457.2 458.1,454.4 460.0,452.0 C461.9,449.7 465.4,447.9 464.2,446.2 C463.1,444.4 453.7,442.7 453.0,441.5 C452.3,440.3 456.9,440.9 460.0,439.2 C463.1,437.4 469.8,432.5 471.7,430.9 C473.7,429.4 469.7,435.9 471.9,429.9 C474.2,423.9 482.7,402.0 485.3,395.0 C487.9,387.9 486.7,390.0 487.5,387.5 C488.4,385.1 489.8,383.1 490.5,380.1 C491.2,377.1 491.9,373.2 492.0,369.7 C492.1,366.2 491.0,362.8 491.2,359.3 C491.5,355.8 491.9,352.1 493.5,348.9 C495.1,345.7 498.1,344.3 500.9,340.0 C503.7,335.7 508.4,328.4 510.4,323.3 C512.4,318.2 513.4,313.1 512.8,309.2 C512.2,305.3 509.1,301.8 506.9,299.9 C504.8,297.9 501.6,298.9 499.9,297.5 C498.1,296.2 496.0,294.8 496.4,291.7 C496.7,288.5 500.9,282.9 502.2,278.8 C503.6,274.7 503.4,271.7 504.6,267.0 C505.7,262.4 509.2,255.7 509.2,250.6 C509.2,245.6 506.1,241.6 504.6,236.6 C503.0,231.5 501.0,224.1 499.9,220.2 C498.7,216.3 497.3,214.2 497.5,213.1 C497.7,212.0 499.1,212.2 501.0,213.6 C503.0,215.0 506.9,219.8 509.2,221.3 C511.6,222.8 513.7,220.7 515.1,222.5 C516.5,224.3 515.3,228.6 517.5,231.9 C519.6,235.2 523.9,240.5 528.0,242.4 C532.1,244.4 537.8,241.8 542.1,243.6 C546.4,245.4 550.9,249.9 553.8,253.0 C556.6,256.1 558.8,259.2 559.2,262.4 C559.6,265.5 558.6,268.2 556.1,271.7 C553.7,275.2 547.9,279.5 544.4,283.5 C540.9,287.4 537.1,292.2 535.0,295.2 C533.0,298.1 532.0,298.3 532.0,301.0 C532.0,303.8 533.6,307.9 535.0,311.6 C536.5,315.3 539.0,319.4 540.9,323.3 C542.8,327.2 545.3,332.2 546.3,335.0 C547.3,337.8 546.3,338.2 546.9,340.0 C547.5,341.8 549.9,343.5 549.9,345.9 C549.9,348.4 548.2,352.6 546.9,354.9 C545.7,357.1 543.7,357.3 542.5,359.3 C541.2,361.3 540.1,364.0 539.5,366.7 C538.9,369.5 539.1,372.7 538.8,375.6 C538.4,378.6 537.9,382.0 537.3,384.6 C536.7,387.2 533.0,391.4 535.1,391.2 C537.2,391.1 546.2,386.0 549.9,383.8 C553.6,381.6 554.6,379.4 557.3,377.9 C560.1,376.4 563.5,375.9 566.2,374.9 C569.0,373.9 571.2,373.5 573.7,371.9 C576.1,370.3 579.0,367.8 581.1,365.2 C583.2,362.6 584.8,358.8 586.3,356.3 C587.8,353.9 588.4,352.3 590.0,350.4 C591.6,348.5 593.0,346.2 595.9,345.2 C598.9,344.2 607.2,344.3 607.8,344.2 C608.5,344.0 597.3,344.8 600.0,344.3 C602.7,343.8 616.3,342.1 623.8,341.2 C631.4,340.3 640.5,339.1 645.3,338.8 C650.1,338.5 650.5,341.3 652.5,339.5 C654.5,337.8 656.0,332.4 657.2,328.1 C658.4,323.8 658.4,318.6 659.6,313.8 C660.8,309.0 663.8,304.2 664.4,299.5 C665.0,294.7 664.4,290.1 663.2,285.2 C662.0,280.2 657.2,274.8 657.2,269.7 C657.2,264.5 660.8,259.1 663.2,254.2 C665.6,249.2 669.0,244.0 671.5,239.9 C674.1,235.7 676.5,231.3 678.7,229.1 C680.9,226.9 683.1,224.9 684.7,226.7 C686.3,228.5 687.0,237.1 688.2,239.9 C689.4,242.6 689.0,244.2 691.8,243.4 C694.6,242.6 701.2,238.1 704.9,235.1 C708.7,232.1 712.6,229.9 714.5,225.5 C716.3,221.2 716.3,213.2 716.1,208.8 C715.9,204.5 713.2,202.7 713.3,199.3 C713.4,195.9 716.1,191.2 716.9,188.6 C717.7,186.0 717.9,184.6 718.1,183.8" fill="none" stroke="#000" stroke-width="2.5" stroke-linejoin="round" stroke-linecap="round"/>
<path d="M745.5,216.0 C746.5,215.4 747.3,214.8 749.1,217.2 C750.8,219.6 753.6,228.3 756.2,230.3 C758.8,232.3 761.6,229.5 764.6,229.1 C767.5,228.7 771.8,227.3 774.1,227.9 C776.4,228.5 778.8,229.5 778.4,232.7 C778.0,235.9 774.8,241.8 771.7,247.0 C768.6,252.2 763.8,258.5 759.8,263.7 C755.8,268.9 750.6,272.7 747.9,278.0 C745.2,283.3 744.4,289.7 743.6,295.7 C742.8,301.6 744.4,308.4 743.1,313.8 C741.8,319.2 738.7,322.9 735.9,328.1 C733.2,333.3 729.2,340.0 726.4,344.8 C723.6,349.6 721.8,354.5 719.2,356.7 C716.7,358.9 712.9,359.1 710.9,357.9 C708.9,356.7 709.9,352.3 707.3,349.6 C704.7,346.8 699.4,343.2 695.4,341.2 C691.4,339.2 686.5,339.4 683.5,337.6 C680.5,335.8 678.3,332.9 677.5,330.5 C676.7,328.1 676.3,325.7 678.7,323.3 C681.1,320.9 689.6,319.7 691.8,316.2 C694.0,312.6 692.4,306.6 691.8,301.9 C691.2,297.1 689.4,291.7 688.2,287.6 C687.0,283.4 684.3,279.0 684.7,276.8 C685.1,274.6 687.2,276.2 690.6,274.4 C694.0,272.6 700.6,269.5 704.9,266.1 C709.3,262.7 713.3,257.9 716.9,254.2 C720.4,250.4 722.6,245.6 726.4,243.4 C730.2,241.2 736.9,243.2 739.5,241.0 C742.2,238.9 741.8,233.7 742.4,230.3 C743.0,226.9 742.6,223.2 743.1,220.8 C743.6,218.4 744.5,216.6 745.5,216.0Z" fill="none" stroke="#000" stroke-width="2.5" stroke-linejoin="round" stroke-linecap="round"/>
<path d="M728.8,183.8 C729.0,186.4 728.8,193.9 730.0,199.3 C731.2,204.7 733.8,214.6 735.9,216.0 C738.1,217.4 737.1,209.0 743.1,207.7 C749.1,206.3 766.1,209.0 771.7,207.7 C777.4,206.3 777.0,202.7 777.0,199.3 C777.0,195.9 772.8,190.0 771.7,187.4 C770.6,184.8 770.7,184.4 770.5,183.8" fill="none" stroke="#000" stroke-width="2.5" stroke-linejoin="round" stroke-linecap="round"/>
<path d="M26.2,592.9 C27.8,591.1 32.8,584.5 35.7,581.7 C38.7,579.0 41.1,579.1 44.1,576.3 C47.0,573.4 49.9,567.9 53.4,564.6 C57.0,561.2 60.9,558.9 65.2,556.4 C69.5,553.8 74.1,551.5 79.2,549.3 C84.3,547.2 90.2,545.8 95.6,543.5 C101.1,541.1 107.4,538.1 112.0,535.3 C116.7,532.4 120.8,529.7 123.8,526.6 C126.7,523.5 129.2,519.4 129.6,516.5 C130.0,513.7 128.3,511.2 126.1,509.5 C124.0,507.7 120.2,506.2 116.7,506.0 C113.2,505.7 108.9,506.5 105.0,507.8 C101.1,509.2 96.6,511.5 93.3,514.2 C90.0,516.8 87.8,521.2 85.1,523.5 C82.4,525.9 79.0,528.4 76.9,528.2 C74.7,528.0 73.0,525.3 72.2,522.4 C71.4,519.4 71.4,515.3 72.2,510.6 C73.0,506.0 74.5,499.1 76.9,494.2 C79.2,489.4 82.7,485.3 86.3,481.3 C89.8,477.4 93.7,473.8 98.0,470.8 C102.3,467.8 106.6,465.3 112.0,463.3 C117.5,461.3 123.8,459.5 130.8,458.6 C137.8,457.7 147.6,457.6 154.2,457.9 C160.9,458.2 166.5,459.3 170.6,460.2 C174.7,461.1 173.2,462.8 178.9,463.3 C184.5,463.8 198.2,462.0 204.6,463.3 C211.1,464.5 213.0,468.4 217.5,470.8 C222.0,473.2 227.1,475.1 231.6,477.8 C236.1,480.6 240.6,486.2 244.5,487.2 C248.4,488.2 250.2,484.5 255.0,483.7 C259.9,482.8 267.6,482.2 273.8,482.0 C280.0,481.9 285.9,482.1 292.1,482.5 C298.2,482.9 307.8,484.0 310.8,484.4 C313.8,484.8 305.1,484.2 310.0,484.9 C314.9,485.5 330.3,486.6 340.5,488.4 C350.6,490.1 361.2,491.7 370.9,495.4 C380.7,499.1 393.4,505.7 399.1,510.6 C404.8,515.6 403.3,520.3 405.0,524.9 C406.7,529.4 407.9,534.2 409.1,538.1 C410.4,542.0 411.6,545.0 412.5,548.1 C413.3,551.1 413.3,554.1 414.1,556.3 C414.9,558.5 416.2,560.3 417.4,561.3 C418.7,562.3 418.7,562.6 421.6,562.1 C424.5,561.7 431.0,559.5 434.8,558.8 C438.7,558.1 440.9,560.2 444.8,558.0 C448.6,555.8 453.6,547.9 458.0,545.6 C462.4,543.2 467.7,544.9 471.3,543.9 C474.9,542.9 476.5,540.5 479.6,539.8 C482.6,539.0 486.5,540.5 489.5,539.4 C492.5,538.3 494.9,535.0 497.8,533.1 C500.7,531.3 504.1,529.1 506.9,528.2 C509.7,527.3 512.0,527.4 514.4,527.8 C516.7,528.3 518.0,530.2 521.0,530.7 C524.0,531.1 529.4,531.1 532.6,530.7 C535.8,530.2 538.1,528.2 540.0,527.8 C542.0,527.5 542.7,527.9 544.2,528.5 C545.7,529.1 546.9,530.7 549.2,531.5 C551.4,532.3 555.0,532.3 557.4,533.1 C559.9,534.0 562.1,535.3 564.1,536.5 C566.0,537.6 567.8,538.8 569.0,539.8 C570.3,540.7 571.1,541.8 571.5,542.3" fill="none" stroke="#000" stroke-width="2.5" stroke-linejoin="round" stroke-linecap="round"/>
<path d="M665.6,351.9 C666.8,351.0 669.4,348.8 671.5,349.6 C673.7,350.4 675.9,354.3 678.7,356.7 C681.5,359.1 684.7,361.9 688.2,363.9 C691.8,365.9 696.6,367.0 700.2,368.6 C703.7,370.2 705.7,370.0 709.7,373.4 C713.7,376.8 723.6,386.7 724.0,389.1 C724.4,391.5 715.7,388.9 712.1,387.9 C708.5,386.9 706.1,385.1 702.6,383.1 C699.0,381.1 693.0,377.2 690.6,376.0 C688.2,374.7 690.6,376.6 688.2,375.8 C685.9,375.0 679.9,373.2 676.3,371.0 C672.7,368.8 668.8,365.3 666.8,362.7 C664.8,360.1 664.6,357.3 664.4,355.5 C664.2,353.7 664.4,352.9 665.6,351.9Z" fill="none" stroke="#000" stroke-width="2.5" stroke-linejoin="round" stroke-linecap="round"/>
<path d="M662.5,519.1 C662.3,518.1 661.8,517.3 661.5,513.1 C661.3,508.9 660.7,500.4 660.8,494.0 C660.9,487.7 660.6,479.3 662.0,474.9 C663.4,470.6 666.6,468.8 669.2,467.8 C671.7,466.8 676.1,467.0 677.5,469.0 C678.9,471.0 676.9,476.5 677.5,479.7 C678.1,482.9 678.5,485.9 681.1,488.1 C683.7,490.2 688.6,492.0 693.0,492.8 C697.4,493.6 703.5,494.2 707.3,492.8 C711.1,491.4 714.1,488.3 715.7,484.5 C717.3,480.7 716.1,474.3 716.9,470.2 C717.7,466.0 720.8,462.2 720.4,459.4 C720.0,456.7 717.1,454.1 714.5,453.5 C711.9,452.9 707.3,453.9 704.9,455.9 C702.6,457.8 702.8,464.0 700.2,465.4 C697.6,466.8 691.6,465.4 689.4,464.2 C687.2,463.0 686.9,460.8 687.0,458.2 C687.2,455.7 689.6,451.9 690.6,448.7 C691.6,445.5 691.8,443.1 693.0,439.2 C694.2,435.2 695.8,428.8 697.8,424.9 C699.8,420.9 701.8,418.5 704.9,415.3 C708.1,412.1 713.7,409.0 716.9,405.8 C720.0,402.6 722.8,399.0 724.0,396.2 C725.2,393.5 721.2,396.5 724.0,389.1 C726.8,381.7 738.1,358.9 740.7,351.9 C743.3,345.0 739.1,349.2 739.5,347.2 C739.9,345.2 741.7,341.8 743.1,340.0 C744.5,338.2 746.3,336.0 747.9,336.4 C749.5,336.8 750.6,341.0 752.6,342.4 C754.6,343.8 757.4,344.8 759.8,344.8 C762.2,344.8 765.0,344.4 766.9,342.4 C768.9,340.4 769.9,336.4 771.7,332.9 C773.5,329.3 775.9,323.9 777.7,320.9 C779.5,318.0 782.2,317.8 782.4,315.0 C782.6,312.2 780.1,308.4 778.9,304.2 C777.7,300.1 776.3,295.1 775.3,289.9 C774.3,284.8 772.9,278.0 772.9,273.2 C772.9,268.5 772.9,264.2 775.3,261.3 C777.7,258.5 783.0,256.1 787.2,256.1 C791.4,256.1 795.8,260.6 800.3,261.3 C804.9,262.0 810.5,259.7 814.6,260.1 C818.8,260.5 823.8,260.3 825.4,263.7 C827.0,267.1 824.2,274.4 824.2,280.4 C824.2,286.4 824.6,294.7 825.4,299.5 C826.2,304.2 826.8,305.4 829.0,309.0 C831.1,312.6 836.1,316.6 838.5,320.9 C840.9,325.3 843.1,330.5 843.3,335.3 C843.5,340.0 841.1,345.4 839.7,349.6 C838.3,353.7 835.1,356.9 834.9,360.3 C834.7,363.7 836.7,366.8 838.5,370.0 C840.3,373.2 843.7,375.2 845.6,379.5 C847.6,383.9 848.8,391.7 850.4,396.2 C852.0,400.8 853.6,404.4 855.2,407.0 C856.8,409.6 857.6,411.7 860.0,411.7 C862.3,411.7 866.7,409.6 869.5,407.0 C872.3,404.4 875.1,400.4 876.7,396.2 C878.2,392.1 878.8,386.3 878.6,381.9 C878.4,377.6 876.2,373.4 875.5,370.0 C874.7,366.6 873.3,365.3 874.3,361.5 C875.3,357.7 878.4,351.1 881.4,347.2 C884.4,343.2 890.4,339.2 892.2,337.6" fill="none" stroke="#000" stroke-width="2.5" stroke-linejoin="round" stroke-linecap="round"/>
<path d="M892.2,227.9 C890.0,227.7 882.4,225.9 879.0,226.7 C875.7,227.5 873.5,229.3 871.9,232.7 C870.3,236.1 870.5,243.0 869.5,247.0 C868.5,251.0 869.1,253.8 865.9,256.5 C862.7,259.3 853.0,261.5 850.4,263.7 C847.8,265.9 847.2,268.3 850.4,269.7 C853.6,271.1 865.3,270.3 869.5,272.0 C873.7,273.8 875.5,276.6 875.5,280.4 C875.5,284.2 871.9,291.1 869.5,294.7 C867.1,298.3 861.9,299.1 861.1,301.9 C860.4,304.6 862.5,308.6 864.7,311.4 C866.9,314.2 869.7,316.5 874.3,318.6 C878.8,320.6 889.2,322.9 892.2,323.8" fill="none" stroke="#000" stroke-width="2.5" stroke-linejoin="round" stroke-linecap="round"/>
<path d="M720.4,540.5 C723.4,540.3 733.0,540.5 738.3,539.3 C743.7,538.1 747.9,534.6 752.6,533.4 C757.4,532.2 762.6,533.2 766.9,532.2 C771.3,531.2 775.7,527.8 778.9,527.4 C782.0,527.0 782.8,527.6 786.0,529.8 C789.2,532.0 794.0,537.9 797.9,540.5 C801.9,543.1 806.7,545.1 809.9,545.3 C813.1,545.5 814.8,544.7 817.0,541.7 C819.2,538.7 821.4,533.0 823.0,527.4 C824.6,521.8 824.0,512.9 826.6,508.3 C829.2,503.8 836.1,502.8 838.5,500.0 C840.9,497.2 841.9,495.8 840.9,491.6 C839.9,487.5 834.1,480.1 832.5,474.9 C830.9,469.8 830.7,463.8 831.3,460.6 C831.9,457.4 832.5,456.1 836.1,455.9 C839.7,455.7 847.6,457.8 852.8,459.4 C858.0,461.0 862.9,463.0 867.1,465.4 C871.3,467.8 875.9,476.1 877.8,473.7 C879.8,471.4 878.6,456.9 879.0,451.1 C879.4,445.3 879.2,443.5 880.2,439.2 C881.2,434.8 883.0,428.8 885.0,424.9 C887.0,420.9 891.0,416.9 892.2,415.3" fill="none" stroke="#000" stroke-width="2.5" stroke-linejoin="round" stroke-linecap="round"/>
</g>
<rect x="30.15" y="185.95" width="860.9" height="554.05" fill="none" stroke="#000" stroke-width="1.9"/>
<g clip-path="url(#mc)">
<path d="M24.2,659.3 L44.1,659.3 L44.1,656.0 L52.3,656.0 L52.3,646.9 L66.4,646.9 L66.4,623.7 L72.2,623.7 L73.1,621.2 L69.7,616.3 L60.6,614.6 L59.0,611.3 L59.3,606.6 L74.7,604.7 L88.0,603.0 L87.1,598.9 L96.3,594.7 L96.3,592.2 L107.0,592.2 L107.0,583.4 L144.3,583.4 L144.6,578.1 L148.4,575.7 L157.6,575.7 L158.1,569.9 L165.8,569.9 L165.8,561.1 L175.0,561.1 L172.5,557.9 L177.4,557.9 L184.1,561.6 L225.3,561.0 L225.3,566.2 L233.7,569.8 L225.3,572.7 L215.8,574.6 L213.4,579.4 L215.8,585.3 L222.9,593.7 L234.9,599.6 L246.8,602.5 L255.1,602.5 L258.4,598.0 L258.4,592.2 L264.7,592.2 L264.7,583.4 L283.8,583.4 L283.8,579.5 L296.2,579.5 L301.2,582.3 L314.4,584.8 L321.0,587.3 L331.0,588.4 L347.6,588.4 L364.1,587.3 L377.4,584.8 L389.0,582.8 L390.6,579.5 L394.8,579.5 L395.6,581.1 L398.9,580.6 L401.4,578.1 L403.9,583.1 L415.0,583.4 L416.6,583.2 L421.6,581.2 L428.2,579.2 L438.1,579.2 L444.8,577.1 L453.9,574.6 L453.9,569.6 L467.1,569.6 L468.0,561.3 L476.3,560.5 L482.9,557.2 L494.5,553.0 L498.1,551.4 L498.1,547.2 L512.7,547.2 L512.7,541.8 L522.6,541.4 L530.9,538.9 L535.9,543.9 L544.2,541.4 L550.8,544.7 L559.1,540.6 L564.1,541.4 L570.7,540.6 L577.3,538.9 L585.6,539.8 L593.9,538.4 L600.5,541.4 L605.0,543.1 L603.3,540.5 L605.8,545.5 L608.3,542.2 L616.5,543.0 L619.9,545.5 L630.6,543.0 L630.6,533.4 L638.1,533.4 L638.1,529.8 L649.7,529.8 L659.6,525.6 L659.6,519.8 L667.9,519.8 L667.9,510.7 L678.7,510.7 L678.7,506.1 L696.1,506.1 L699.4,505.7 L706.0,511.5 L712.6,516.5 L718.4,520.7 L719.3,529.8 L721.8,532.3 L719.6,538.1 L720.3,531.9 L718.8,535.8 L712.0,539.2 L708.1,544.5 L706.2,550.4 L705.7,554.2 L702.3,556.7 L697.9,561.0 L703.8,561.0 L703.8,563.5 L705.7,563.0 L706.2,559.1 L708.1,558.6 L708.1,562.0 L706.7,565.9 L709.1,568.8 L713.0,570.7 L712.0,572.7 L706.2,573.6 L704.2,572.7 L704.2,576.6 L709.1,579.5 L713.0,582.4 L715.9,582.9 L721.7,582.9 L721.7,585.3 L723.6,582.9 L725.6,581.9 L727.5,582.9 L727.5,576.6 L730.0,574.6 L730.0,570.3 L738.2,570.3 L742.1,568.8 L745.0,567.3 L745.0,561.0 L751.8,561.0 L751.8,556.0 L756.1,556.0 L756.1,559.1 L757.6,559.1 L756.6,563.0 L756.6,567.8 L760.5,569.8 L763.4,569.8 L771.2,569.8 L771.2,573.6 L773.1,574.6 L773.1,582.9 L793.0,582.9 L793.0,579.0 L800.0,579.0 L799.5,578.4 L807.8,575.3 L806.7,582.6 L801.6,584.6 L802.6,591.8 L808.8,590.8 L821.1,591.8 L826.3,588.7 L829.4,583.6 L829.4,578.4 L817.0,578.4 L815.0,576.4 L816.0,571.2 L823.2,567.1 L829.4,568.1 L831.4,572.3 L834.5,573.3 L834.5,564.0 L840.7,564.0 L840.7,579.5 L846.9,580.5 L841.7,571.2 L847.9,573.3 L854.1,570.2 L856.1,562.0 L847.9,554.8 L842.7,551.7 L843.8,547.6 L852.0,547.6 L856.1,553.7 L863.3,551.7 L863.3,547.6 L868.5,551.7 L874.6,555.8 L882.9,551.7 L887.0,547.6 L884.9,539.3 L878.7,538.3 L878.7,533.2 L880.8,529.1 L878.7,520.8 L884.9,518.8 L884.9,512.6 L890.1,510.5 L890.1,473.5 L889.0,459.1 L884.9,450.9 L878.7,446.7 L880.8,440.6 L884.9,435.4 L893.1,427.2 L896.0,425.0 L896.0,745.0 L25.1,745.0Z" fill="#fff"/>
<path d="M220.6,331.1 L225.1,336.3 L232.5,342.3 L240.0,348.2 L247.4,355.7 L248.1,364.6 L245.9,375.0 L240.0,379.4 L237.0,385.4 L234.0,389.1 L228.1,386.9 L222.1,385.4 L216.2,391.3 L211.7,389.8 L210.2,385.4 L205.8,383.2 L201.3,375.0 L197.6,370.5 L197.6,369.8 L192.4,369.8 L192.4,351.9 L199.1,351.9 L199.1,343.0 L206.5,343.0 L206.5,334.4 L219.9,334.4Z" fill="#fff"/>
<path d="M144.1,397.3 L152.3,397.3 L153.8,404.7 L154.5,410.6 L152.3,412.9 L150.8,418.1 L153.8,426.2 L150.8,425.5 L144.9,421.0 L140.4,419.6 L135.9,419.6 L135.9,415.1 L140.1,415.1 L141.9,410.6 L144.1,407.7Z" fill="#fff"/>
<path d="M156.7,397.3 L164.2,398.0 L170.1,395.8 L175.3,396.5 L175.3,401.0 L170.1,404.7 L164.9,406.2 L165.7,412.1 L167.1,416.6 L163.4,419.6 L158.2,418.1 L155.3,413.6 L155.3,406.2 L156.0,400.2Z" fill="#fff"/>
<path d="M169.4,406.2 L176.1,403.2 L182.0,402.5 L186.5,406.2 L185.7,410.6 L190.2,415.1 L186.5,418.1 L182.0,416.6 L179.0,421.0 L174.6,424.0 L171.6,427.7 L169.4,424.0 L166.4,424.0 L166.4,419.6 L169.8,418.1 L168.9,412.1Z" fill="#fff"/>
<path d="M151.5,429.2 L159.7,429.2 L165.7,432.9 L172.3,435.2 L170.9,439.6 L165.7,440.4 L161.2,441.1 L156.7,437.4 L153.0,434.4Z" fill="#fff"/>
<path d="M193.2,403.5 L195.7,408.0 L190.9,408.4Z" fill="#fff"/>
<path d="M195.1,396.5 L197.6,397.3 L196.1,399.0 L194.2,398.5Z" fill="#fff"/>
<path d="M153.05,602.5V614.3" stroke="#000" stroke-width="1.9"/>
<path d="M30.0,669.3 L32.1,668.5 L34.3,667.8 L36.6,667.6 L37.4,663.5 L39.4,662.5 L41.1,660.9 L43.2,660.2 L45.5,659.2 L47.7,658.0 L49.9,656.6 L52.3,656.0 L54.8,655.5 L57.2,654.4 L59.8,654.4 L61.7,652.4 L63.3,650.2 L65.6,648.6 L66.6,645.9 L68.3,643.6 L69.7,641.1 L70.7,638.7 L70.6,636.0 L71.3,633.6 L72.2,631.2 L72.6,628.9 L73.1,626.7 L72.9,624.3 L73.1,622.1 L71.3,619.4 L69.7,616.6 L67.6,615.6 L65.1,616.1 L63.0,614.7 L60.6,614.6 L59.3,611.3 L60.6,608.8 L63.1,608.0 L65.5,607.3 L68.1,607.1 L70.1,605.9 L72.4,605.3 L74.7,604.7 L77.1,605.7 L79.7,606.0 L82.3,604.8 L85.2,604.3 L88.0,603.3 L90.5,602.9 L92.9,602.2 L90.9,601.2 L89.1,599.9 L87.1,598.9 L89.3,597.6 L91.5,596.7 L93.9,596.1 L96.3,595.5 L98.7,594.6 L100.9,593.1 L103.1,591.9 L105.6,591.0 L107.9,589.7 L110.0,589.0 L112.2,588.1 L114.6,588.0 L116.8,587.2 L118.8,586.0 L121.1,585.6 L123.4,585.3 L125.7,585.0 L128.1,585.0 L130.4,584.5 L132.7,583.9 L135.5,583.9 L138.2,584.8 L141.0,584.4 L143.8,583.4 L146.8,583.1 L145.6,580.7 L144.6,578.1 L146.7,577.1 L148.4,575.7 L151.0,575.9 L153.4,576.8 L155.5,575.8 L157.6,574.8 L160.0,571.5 L162.7,569.8 L165.8,569.0 L167.2,567.1 L168.3,564.9 L170.6,564.3 L172.8,563.3 L175.0,562.4 L174.1,560.0 L172.5,557.9 L175.0,557.7 L177.4,557.9 L179.4,559.5 L181.6,560.7 L182.7,562.9 L184.1,564.9 L185.7,566.4 L187.4,567.7 L188.8,569.5 L190.7,570.7 L193.0,570.3 L194.8,569.0 L197.0,568.4 L199.0,567.4 L201.7,566.5 L204.5,566.8 L207.3,566.2 L210.0,566.2 L212.8,566.4 L215.6,565.7 L217.9,565.9 L220.3,565.1 L222.6,565.0 L225.0,564.9 L227.1,566.3 L229.6,566.9 L231.5,568.5 L233.7,569.8 L231.7,570.9 L229.6,571.6 L227.6,572.4 L225.3,572.7 L222.9,572.9 L220.6,574.0 L218.2,574.4 L215.8,574.6 L214.7,577.0 L213.4,579.4 L214.2,582.5 L215.8,585.3 L217.9,587.1 L219.4,589.5 L221.1,591.6 L222.9,593.7 L224.7,595.0 L226.8,596.0 L228.7,597.0 L231.0,597.4 L232.9,598.5 L234.9,599.6 L237.3,600.0 L239.5,601.2 L241.9,601.8 L244.5,601.5 L246.8,602.5 L249.6,602.1 L252.4,602.2 L255.1,602.5 L256.8,600.1 L258.9,598.0 L260.3,595.8 L261.8,593.7 L263.1,591.4 L264.9,590.0 L266.8,588.6 L269.0,587.8 L270.9,586.6 L273.0,585.6 L275.3,584.9 L277.8,584.5 L280.0,583.5 L282.3,582.6 L284.6,581.8 L286.9,581.4 L289.3,581.0 L291.5,579.9 L294.0,580.4 L296.2,579.5 L298.5,581.1 L301.2,582.3 L303.5,583.3 L306.1,583.8 L308.6,584.0 L311.1,584.8 L313.6,585.3 L316.2,585.6 L318.5,586.8 L321.0,587.3 L323.3,587.0 L325.5,587.2 L327.7,587.5 L329.9,587.7 L332.1,588.0 L334.3,588.4 L336.5,587.9 L338.7,587.9 L340.9,588.0 L343.1,588.0 L345.4,588.3 L347.6,588.4 L349.9,587.7 L352.3,588.5 L354.7,588.0 L357.0,587.4 L359.4,587.3 L361.8,587.3 L364.1,587.3 L366.5,586.8 L368.8,586.1 L371.3,586.6 L373.7,586.4 L376.0,585.4 L378.3,585.1 L380.7,584.8 L383.1,583.7 L385.6,583.1 L388.1,582.7 L390.6,582.3 L393.4,581.5 L396.2,581.5 L398.9,580.6 L401.4,578.1 L403.0,580.5 L403.9,583.1 L406.1,582.7 L408.3,583.7 L410.6,583.3 L412.8,583.0 L415.0,583.4 L416.6,583.2 L419.1,582.2 L421.6,581.2 L423.7,580.1 L426.0,580.1 L428.2,579.5 L430.6,580.3 L433.1,580.3 L435.6,580.4 L438.1,580.4 L440.3,579.3 L442.5,578.6 L444.8,577.9 L447.0,576.9 L449.4,576.9 L451.6,576.0 L453.9,575.4 L456.5,574.9 L458.8,573.6 L461.3,572.9 L463.1,571.5 L465.4,571.0 L467.1,569.6 L468.5,566.8 L468.8,563.8 L471.4,563.0 L473.9,561.9 L476.3,560.5 L478.6,560.0 L480.8,559.1 L482.9,558.0 L485.1,556.9 L487.5,556.4 L489.8,555.4 L492.0,554.2 L494.5,553.9 L496.8,552.3 L499.4,551.6 L501.8,550.5 L504.4,549.7 L507.2,549.4 L510.0,549.1 L512.7,548.1 L514.7,546.6 L517.1,545.5 L519.2,544.1 L521.0,542.3 L523.6,541.9 L525.9,540.5 L528.3,539.5 L530.9,538.9 L532.8,540.4 L534.5,542.0 L535.9,543.9 L538.6,542.8 L541.5,542.4 L544.2,541.4 L545.6,543.2 L547.3,544.6 L549.2,545.8 L550.8,547.2 L552.6,545.7 L554.1,543.9 L556.8,542.5 L559.1,540.6 L561.7,541.0 L564.1,542.3 L566.3,541.9 L568.6,541.6 L570.7,540.6 L573.0,540.3 L575.2,539.8 L577.3,538.9 L580.1,539.2 L582.9,539.1 L585.6,539.8 L588.4,539.6 L591.1,538.7 L593.9,538.4 L596.0,539.7 L598.1,540.9 L600.5,541.4 L602.8,542.1 L605.0,543.1 L603.3,540.5 L604.6,543.0 L605.8,545.5 L608.3,542.2 L611.0,543.0 L613.8,543.0 L616.5,543.0 L619.9,545.5 L622.5,544.6 L625.3,544.0 L628.1,543.9 L630.1,542.1 L632.8,541.5 L634.8,539.7 L636.7,538.0 L637.8,535.6 L639.7,533.9 L642.3,533.4 L644.9,532.8 L647.3,531.6 L649.7,530.6 L651.6,529.5 L653.7,528.7 L655.5,527.3 L657.4,526.1 L659.6,525.6 L661.6,524.6 L663.0,522.8 L664.6,521.3 L666.3,519.8 L668.2,518.5 L669.5,516.5 L671.2,514.9 L673.9,514.2 L676.3,513.1 L678.6,511.5 L681.2,510.7 L683.9,509.9 L686.6,509.4 L689.4,509.1 L691.8,508.0 L694.5,507.5 L696.8,506.3 L699.4,505.7 L701.1,507.1 L703.0,508.3 L704.1,510.4 L706.0,511.5 L708.3,513.1 L710.5,514.8 L712.6,516.5 L714.5,518.0 L716.3,519.6 L718.4,520.7 L718.7,522.9 L718.4,525.3 L719.1,527.5 L719.3,529.8 L721.8,532.3 L720.7,535.1 L719.6,538.1 L719.7,535.4 L719.2,532.7 L719.8,530.0 L719.3,532.9 L718.8,535.8 L716.9,539.2 L714.4,539.6 L712.0,539.2 L710.5,542.2 L708.1,544.5 L706.8,547.4 L706.2,550.4 L705.7,554.2 L702.3,556.7 L700.6,558.6 L698.4,560.1 L696.5,562.8 L694.5,565.4 L692.1,565.9 L689.7,566.9 L686.8,568.3 L683.9,569.8 L682.9,573.6 L685.8,570.7 L689.7,571.7 L691.1,574.0 L692.1,576.6 L694.5,577.5 L696.0,573.6 L696.8,571.2 L697.5,568.8 L700.9,566.4 L702.6,564.7 L704.2,563.0 L706.2,559.1 L708.1,558.6 L708.1,562.0 L706.7,565.9 L709.1,568.8 L713.0,570.7 L712.0,572.7 L709.0,572.9 L706.2,573.6 L704.2,572.7 L704.2,576.6 L706.9,577.6 L709.1,579.5 L711.0,581.0 L713.0,582.4 L716.0,583.6 L718.8,585.3 L722.7,584.3 L724.6,582.4 L727.5,584.3 L728.0,587.2 L728.0,590.1 L726.5,592.9 L725.6,596.0 L724.3,598.5 L722.9,601.1 L721.7,603.7 L723.4,601.9 L724.6,599.8 L726.8,598.7 L728.5,596.9 L729.4,594.5 L730.4,592.1 L734.3,592.1 L736.7,594.1 L739.2,596.0 L743.0,594.0 L743.5,590.6 L742.3,588.2 L741.1,585.8 L739.2,587.0 L737.2,588.2 L734.3,588.2 L731.4,588.7 L729.5,586.3 L728.9,583.4 L728.5,580.4 L728.5,578.0 L728.5,575.6 L732.4,574.1 L734.3,573.0 L736.5,572.3 L738.2,570.7 L742.1,570.3 L745.0,568.3 L747.0,567.3 L748.9,565.9 L750.7,564.2 L751.8,562.0 L754.0,560.9 L755.7,559.1 L757.6,559.1 L756.6,563.0 L756.9,565.4 L756.6,567.8 L760.5,569.8 L763.4,570.7 L765.4,574.6 L763.8,576.5 L762.4,578.5 L763.4,582.4 L766.3,581.9 L768.7,579.5 L767.8,575.6 L770.2,573.6 L773.1,574.6 L772.3,576.8 L772.1,579.1 L772.1,581.4 L772.1,584.4 L771.2,587.2 L773.1,591.1 L777.0,592.1 L779.3,590.9 L781.8,590.6 L784.3,590.1 L786.7,589.7 L788.9,588.0 L791.5,587.2 L793.3,585.1 L795.4,583.3 L797.4,581.5 L800.0,580.4 L802.6,582.6 L801.6,584.6 L801.7,587.0 L802.0,589.5 L802.6,591.8 L805.8,591.7 L808.8,590.8 L811.3,590.6 L813.7,591.4 L816.2,591.6 L818.7,591.2 L821.1,591.8 L823.9,590.6 L826.3,588.7 L828.3,586.4 L829.4,583.6 L825.2,582.6 L823.1,581.8 L821.4,580.0 L819.0,579.6 L817.0,578.4 L815.0,576.4 L815.5,573.8 L816.0,571.2 L818.7,570.3 L821.0,568.8 L823.2,567.1 L826.3,567.3 L829.4,568.1 L830.5,570.2 L831.4,572.3 L834.5,573.3 L835.6,571.2 L836.6,569.2 L838.1,571.5 L839.6,573.8 L840.7,576.4 L842.8,577.6 L844.7,579.3 L846.9,580.5 L845.1,578.4 L844.3,575.8 L842.9,573.6 L841.7,571.2 L845.0,571.8 L847.9,573.3 L849.9,572.1 L852.1,571.4 L854.1,570.2 L854.8,567.5 L855.0,564.6 L856.1,562.0 L854.4,559.8 L852.2,558.1 L850.3,556.2 L847.9,554.8 L845.1,553.6 L842.7,551.7 L843.8,547.6 L846.5,547.3 L849.3,547.1 L852.0,547.6 L853.1,549.8 L854.9,551.5 L856.1,553.7 L858.0,552.4 L860.2,551.7 L861.7,549.6 L863.3,547.6 L865.6,550.0 L868.5,551.7 L870.3,553.4 L872.7,554.2 L874.6,555.8 L876.5,554.4 L879.0,554.2 L880.8,552.8 L882.9,551.7 L885.1,549.8 L887.0,547.6 L885.9,544.9 L885.1,542.2 L884.9,539.3 L881.9,538.6 L878.7,538.3 L878.7,535.7 L878.7,533.2 L879.4,530.9 L880.8,529.1 L880.6,526.2 L879.6,523.5 L878.7,520.8 L881.0,519.0 L882.9,516.7 L883.9,514.4 L885.9,512.8 L887.0,510.5 L887.6,507.6 L889.4,505.2 L890.1,502.3 L889.8,499.9 L889.5,497.5 L889.6,495.1 L889.8,492.7 L888.9,490.3 L889.0,487.9 L888.8,485.5 L889.4,483.1 L889.3,480.7 L889.3,478.3 L889.5,475.9 L890.1,473.5 L889.4,471.1 L889.4,468.7 L889.3,466.3 L889.2,463.9 L889.5,461.5 L889.0,459.1 L887.8,457.1 L887.0,455.0 L885.6,453.1 L884.9,450.9 L882.8,449.6 L880.5,448.6 L878.7,446.7 L879.5,443.6 L880.8,440.6 L882.4,437.7 L884.9,435.4 L886.9,433.8 L888.6,431.9 L890.1,429.8 L892.1,428.2" fill="none" stroke="#000" stroke-width="1.15" stroke-linejoin="round"/>
<path d="M859.2,566.1 L861.3,563.6 L864.3,565.1 L864.7,567.5 L864.6,569.9 L865.4,572.3 L862.3,574.7 L859.2,573.3 L858.8,570.9 L859.5,568.5Z" fill="none" stroke="#000" stroke-width="1.15" stroke-linejoin="round"/>
<path d="M121.1,608.8 L123.3,608.1 L125.5,607.5 L127.8,607.3 L129.9,606.2 L132.2,605.7 L134.4,605.3 L136.7,605.0 L138.7,603.7 L141.1,603.6 L143.3,602.8 L145.4,602.1 L147.6,601.3 L150.0,601.5 L152.3,601.7 L154.7,601.7 L157.1,602.0 L159.4,602.2 L161.7,603.0 L161.9,605.9 L162.5,608.8 L161.1,610.6 L159.5,612.4 L157.6,613.8 L155.5,614.9 L153.0,614.7 L150.8,615.3 L148.7,616.2 L146.6,617.2 L144.4,617.9 L142.2,618.5 L139.9,619.0 L137.8,620.0 L135.5,620.3 L133.3,621.2 L131.0,621.6 L129.0,620.4 L126.8,619.7 L124.4,619.6 L123.6,617.5 L122.5,615.5 L122.4,613.2 L121.1,611.3Z" fill="none" stroke="#000" stroke-width="1.15" stroke-linejoin="round"/>
<path d="M189.6,584.1 L191.9,583.5 L194.3,583.2 L196.7,582.9 L199.3,583.6 L201.5,585.2 L203.9,586.5 L206.3,587.7 L207.4,590.1 L208.9,592.3 L209.8,594.9 L211.0,597.2 L212.9,598.8 L214.1,600.9 L215.7,602.7 L216.8,604.8 L218.2,606.8 L220.4,607.5 L222.3,608.7 L224.0,610.2 L226.0,611.3 L227.7,612.7 L229.7,614.0 L231.7,615.2 L233.7,616.3 L232.8,618.6 L232.5,621.1 L229.5,620.3 L226.5,619.9 L224.5,618.3 L222.5,616.7 L220.0,615.7 L217.8,614.3 L215.8,612.7 L213.6,611.3 L210.9,611.3 L208.7,609.8 L206.3,609.2 L203.8,609.8 L201.6,611.2 L199.1,611.5 L196.7,611.2 L194.3,611.1 L191.9,611.5 L190.0,610.2 L188.1,608.9 L186.0,608.0 L186.7,605.2 L186.4,602.3 L187.2,599.6 L186.6,597.2 L185.9,594.9 L185.3,592.5 L186.7,590.6 L187.7,588.4 L188.8,586.4Z" fill="none" stroke="#000" stroke-width="1.15" stroke-linejoin="round"/>
<path d="M194.3,593.7 L197.9,591.3 L199.6,592.9 L201.5,594.4 L200.3,598.4 L196.2,598.4 L195.7,595.9Z" fill="none" stroke="#000" stroke-width="1.15" stroke-linejoin="round"/>
<path d="M432.3,591.1 L434.8,589.5 L437.3,589.7 L439.8,589.5 L440.6,592.0 L438.1,593.6 L435.7,593.4 L433.2,593.6Z" fill="none" stroke="#000" stroke-width="1.15" stroke-linejoin="round"/>
<path d="M890.7,664.1 L889.0,665.8 L887.4,667.4 L885.2,668.5 L884.1,670.9 L882.4,672.9 L880.9,675.0 L879.8,677.8 L877.7,679.9 L876.5,682.6 L875.0,684.7 L873.5,686.9 L872.2,689.1 L872.6,691.3 L873.1,693.5 L873.8,695.6 L874.3,697.8 L874.5,700.8 L873.3,703.6 L873.3,706.5 L871.7,708.6 L870.5,710.9 L869.2,713.0 L867.8,715.2 L866.3,717.3 L865.5,719.8 L863.5,721.6 L862.4,723.9 L861.8,726.2 L861.2,728.4 L860.2,730.5 L859.1,732.6 L858.7,735.9 L858.7,739.1" fill="none" stroke="#000" stroke-width="1.15" stroke-linejoin="round"/>
<path d="M890.7,701.1 L888.2,702.5 L885.5,703.0 L883.0,704.3 L881.7,706.3 L881.4,708.7 L880.7,710.9 L879.8,713.0 L879.3,715.2 L878.5,717.3 L877.9,719.5 L877.6,721.7 L875.7,723.8 L873.9,726.0 L872.2,728.3 L869.6,731.5 L870.5,734.0 L871.0,736.5 L871.1,739.1" fill="none" stroke="#000" stroke-width="1.15" stroke-linejoin="round"/>
<path d="M220.6,331.1 L221.8,334.1 L225.1,336.3 L228.8,338.6 L230.9,340.2 L232.5,342.3 L236.2,344.5 L237.9,346.6 L240.0,348.2 L241.9,349.5 L243.7,351.2 L245.5,353.5 L247.4,355.7 L247.5,358.0 L246.6,360.1 L247.8,362.2 L248.1,364.6 L247.6,367.2 L246.6,369.8 L246.1,372.4 L245.9,375.0 L242.9,377.9 L240.0,379.4 L237.7,376.5 L237.3,378.7 L237.2,380.9 L237.4,383.2 L237.0,385.4 L235.5,387.2 L234.0,389.1 L231.0,386.9 L228.1,386.9 L225.1,384.6 L222.1,385.4 L220.7,387.6 L219.2,389.8 L216.2,391.3 L214.7,388.4 L211.7,389.8 L210.9,387.6 L210.2,385.4 L207.8,384.6 L205.8,383.2 L205.1,380.7 L203.6,378.7 L201.3,375.0 L199.2,373.0 L197.6,370.5 L198.6,367.6 L198.6,364.6 L197.8,362.1 L196.1,360.1 L196.4,357.7 L197.6,355.7 L197.6,351.9 L199.4,350.1 L201.3,348.2 L203.1,346.2 L204.3,343.8 L206.9,341.9 L208.8,339.3 L210.7,338.3 L212.6,337.1 L214.7,336.3 L217.2,335.1 L219.9,334.4Z" fill="none" stroke="#000" stroke-width="1.15" stroke-linejoin="round"/>
<path d="M152.3,403.2 L152.6,405.8 L154.1,408.1 L154.5,410.6 L152.3,412.9 L151.5,415.4 L150.8,418.1 L152.2,420.7 L152.8,423.5 L153.8,426.2 L150.8,425.5 L149.1,423.6 L146.6,422.8 L144.9,421.0 L142.7,420.0 L140.4,419.6 L140.3,417.3 L140.1,415.1 L141.4,413.0 L141.9,410.6 L143.6,408.8 L144.6,406.5 L146.3,404.7 L149.3,403.2Z" fill="none" stroke="#000" stroke-width="1.15" stroke-linejoin="round"/>
<path d="M156.7,397.3 L159.2,397.9 L161.7,397.7 L164.2,398.0 L167.0,396.4 L170.1,395.8 L172.8,395.6 L175.3,396.5 L175.3,398.8 L175.3,401.0 L172.8,402.9 L170.1,404.7 L167.6,405.6 L164.9,406.2 L165.7,409.1 L165.7,412.1 L166.6,414.3 L167.1,416.6 L165.4,418.2 L163.4,419.6 L160.9,418.5 L158.2,418.1 L156.3,416.1 L155.3,413.6 L155.5,411.1 L155.6,408.7 L155.3,406.2 L155.2,403.2 L156.0,400.2Z" fill="none" stroke="#000" stroke-width="1.15" stroke-linejoin="round"/>
<path d="M169.4,406.2 L171.8,405.6 L173.9,404.4 L176.1,403.2 L179.1,403.3 L182.0,402.5 L184.4,404.1 L186.5,406.2 L186.2,408.4 L185.7,410.6 L188.0,412.8 L190.2,415.1 L188.0,416.2 L186.5,418.1 L184.3,417.2 L182.0,416.6 L180.6,418.9 L179.0,421.0 L176.8,422.6 L174.6,424.0 L173.3,426.0 L171.6,427.7 L169.4,424.0 L166.4,424.0 L165.9,421.8 L166.4,419.6 L169.8,418.1 L168.9,415.2 L168.9,412.1 L169.5,409.2Z" fill="none" stroke="#000" stroke-width="1.15" stroke-linejoin="round"/>
<path d="M151.5,429.2 L154.3,429.0 L157.0,429.7 L159.7,429.2 L161.8,430.2 L163.8,431.5 L165.7,432.9 L167.9,433.7 L170.2,434.1 L172.3,435.2 L171.7,437.4 L170.9,439.6 L168.2,439.5 L165.7,440.4 L163.4,440.3 L161.2,441.1 L159.2,439.0 L156.7,437.4 L155.0,435.8 L153.0,434.4 L152.7,431.7Z" fill="none" stroke="#000" stroke-width="1.15" stroke-linejoin="round"/>
<path d="M193.2,403.5 L194.0,406.0 L195.7,408.0 L193.3,408.1 L190.9,408.4 L192.3,406.1Z" fill="none" stroke="#000" stroke-width="1.15" stroke-linejoin="round"/>
<path d="M195.1,396.5 L197.6,397.3 L196.1,399.0 L194.2,398.5Z" fill="none" stroke="#000" stroke-width="1.15" stroke-linejoin="round"/>
<g transform="translate(358.5,207.9) rotate(19)"><rect x="-18.15" y="-12.7" width="36.3" height="25.4" fill="#fff"/><text transform="translate(0,8.9) scale(1,1.03)" font-size="24.5" text-anchor="middle">22</text></g>
<g transform="translate(81.85,343.3) rotate(-50)"><rect x="-18.0" y="-12.8" width="36" height="25.6" fill="#fff"/><text transform="translate(0,8.9) scale(1,1.03)" font-size="24.5" text-anchor="middle">22</text></g>
<g transform="translate(291.9,482.05) rotate(3.2)"><rect x="-18.3" y="-12.85" width="36.6" height="25.7" fill="#fff"/><text transform="translate(0,8.9) scale(1,1.03)" font-size="24.5" text-anchor="middle">23</text></g>
<g transform="translate(483.95,414.86) rotate(-60.6)"><rect x="-17.8" y="-12.6" width="35.6" height="25.2" fill="#fff"/><text transform="translate(0,8.9) scale(1,1.03)" font-size="24.5" text-anchor="middle">22</text></g>
<g transform="translate(538.5,402.1) rotate(-31.1)"><rect x="-17.85" y="-12.65" width="35.7" height="25.3" fill="#fff"/><text transform="translate(0,8.9) scale(1,1.03)" font-size="24.5" text-anchor="middle">22</text></g>
<g transform="translate(743.6,295.4) rotate(-76.8)"><rect x="-17.6" y="-12.65" width="35.2" height="25.3" fill="#fff"/><text transform="translate(0,8.9) scale(1,1.03)" font-size="24.5" text-anchor="middle">22</text></g>
<g transform="translate(724.6,371.9) rotate(-21.1)"><rect x="-17.65" y="-12.6" width="35.3" height="25.2" fill="#fff"/><text transform="translate(0,8.9) scale(1,1.03)" font-size="24.5" text-anchor="middle">23</text></g>
<circle cx="47.1" cy="214.9" r="4.6" fill="#000" stroke="#9aa" stroke-width="0.9"/>
<circle cx="874.7" cy="315.7" r="4.6" fill="#000" stroke="#9aa" stroke-width="0.9"/>
<circle cx="833.7" cy="354.8" r="4.6" fill="#000" stroke="#9aa" stroke-width="0.9"/>
<circle cx="888.6" cy="354.8" r="4.6" fill="#000" stroke="#9aa" stroke-width="0.9"/>
<circle cx="885.7" cy="393.1" r="4.6" fill="#000" stroke="#9aa" stroke-width="0.9"/>
<circle cx="855.9" cy="469.8" r="4.6" fill="#000" stroke="#9aa" stroke-width="0.9"/>
</g>
<path d="M891.05,664.2V701 M858.7,740.0H871.2" stroke="#000" stroke-width="1.9" fill="none"/>
<text transform="translate(459.7,157.4) scale(1,1.022)" font-size="50" text-anchor="middle">20250626</text>
<text transform="translate(153.55,768.2) scale(1,1.033)" font-size="33.3" text-anchor="middle">133<tspan font-size="21" dy="-9.4" dx="2.1">°</tspan></text>
<text transform="translate(399.55,768.2) scale(1,1.033)" font-size="33.3" text-anchor="middle">134<tspan font-size="21" dy="-9.4" dx="2.1">°</tspan></text>
<text transform="translate(645.55,768.2) scale(1,1.033)" font-size="33.3" text-anchor="middle">135<tspan font-size="21" dy="-9.4" dx="2.1">°</tspan></text>
<text transform="translate(891.55,768.2) scale(1,1.033)" font-size="33.3" text-anchor="middle">136<tspan font-size="21" dy="-9.4" dx="2.1">°</tspan></text>
<text transform="translate(893.4,248.20000000000002) scale(1,1.033)" font-size="33.3">36<tspan font-size="21" dy="-9.4" dx="2.1">°</tspan><tspan dy="9.4" dx="0.9">40'</tspan></text>
<text transform="translate(893.4,349.90000000000003) scale(1,1.033)" font-size="33.3">36<tspan font-size="21" dy="-9.4" dx="2.1">°</tspan><tspan dy="9.4" dx="0.9">20'</tspan></text>
<text transform="translate(893.4,451.2) scale(1,1.033)" font-size="33.3">36<tspan font-size="21" dy="-9.4" dx="2.1">°</tspan><tspan dy="9.4" dx="0.9">00'</tspan></text>
<text transform="translate(893.4,552.0) scale(1,1.033)" font-size="33.3">35<tspan font-size="21" dy="-9.4" dx="2.1">°</tspan><tspan dy="9.4" dx="0.9">40'</tspan></text>
<text transform="translate(893.4,652.25) scale(1,1.033)" font-size="33.3">35<tspan font-size="21" dy="-9.4" dx="2.1">°</tspan><tspan dy="9.4" dx="0.9">20'</tspan></text>
<text transform="translate(893.4,752.3) scale(1,1.033)" font-size="33.3">35<tspan font-size="21" dy="-9.4" dx="2.1">°</tspan><tspan dy="9.4" dx="0.9">00'</tspan></text>
<rect x="44.70" y="800" width="28.67" height="20.8" fill="#FFFFFF"/>
<rect x="73.07" y="800" width="28.67" height="20.8" fill="#6E128C"/>
<rect x="101.44" y="800" width="28.67" height="20.8" fill="#5230B0"/>
<rect x="129.81" y="800" width="28.67" height="20.8" fill="#4A3CB8"/>
<rect x="158.18" y="800" width="28.67" height="20.8" fill="#2B5AD6"/>
<rect x="186.55" y="800" width="28.67" height="20.8" fill="#2660DE"/>
<rect x="214.92" y="800" width="28.67" height="20.8" fill="#1E68E4"/>
<rect x="243.29" y="800" width="28.67" height="20.8" fill="#0080FF"/>
<rect x="271.66" y="800" width="28.67" height="20.8" fill="#0A84FF"/>
<rect x="300.03" y="800" width="28.67" height="20.8" fill="#24A0FF"/>
<rect x="328.40" y="800" width="28.67" height="20.8" fill="#2AA4FF"/>
<rect x="356.77" y="800" width="28.67" height="20.8" fill="#38B0FF"/>
<rect x="385.14" y="800" width="28.67" height="20.8" fill="#50C8FF"/>
<rect x="413.51" y="800" width="28.67" height="20.8" fill="#5AD0FF"/>
<rect x="441.88" y="800" width="28.67" height="20.8" fill="#64DCFF"/>
<rect x="470.25" y="800" width="28.67" height="20.8" fill="#80F8FF"/>
<rect x="498.62" y="800" width="28.67" height="20.8" fill="#86FAF4"/>
<rect x="526.99" y="800" width="28.67" height="20.8" fill="#8CFCDC"/>
<rect x="555.36" y="800" width="28.67" height="20.8" fill="#86FCAA"/>
<rect x="583.73" y="800" width="28.67" height="20.8" fill="#8CFA80"/>
<rect x="612.10" y="800" width="28.67" height="20.8" fill="#96FA7D"/>
<rect x="640.47" y="800" width="28.67" height="20.8" fill="#BEFA7D"/>
<rect x="668.84" y="800" width="28.67" height="20.8" fill="#DCFA7D"/>
<rect x="697.21" y="800" width="28.67" height="20.8" fill="#FFF582"/>
<rect x="725.58" y="800" width="28.67" height="20.8" fill="#FFE768"/>
<rect x="753.95" y="800" width="28.67" height="20.8" fill="#FFDF60"/>
<rect x="782.32" y="800" width="28.67" height="20.8" fill="#FFDA5A"/>
<rect x="810.69" y="800" width="28.67" height="20.8" fill="#FFAA32"/>
<rect x="839.06" y="800" width="28.67" height="20.8" fill="#FFA428"/>
<rect x="867.43" y="800" width="28.67" height="20.8" fill="#FFA020"/>
<rect x="895.80" y="800" width="28.67" height="20.8" fill="#FF8C14"/>
<rect x="924.17" y="800" width="28.67" height="20.8" fill="#EB6E05"/>
<rect x="952.54" y="800" width="28.67" height="20.8" fill="#E06408"/>
<rect x="980.91" y="800" width="28.67" height="20.8" fill="#C44A00"/>
<rect x="1009.28" y="800" width="28.67" height="20.8" fill="#BC3C00"/>
<rect x="1037.65" y="800" width="28.67" height="20.8" fill="#9E1E00"/>
<rect x="1066.02" y="800" width="28.67" height="20.8" fill="#800000"/>
<rect x="44.7" y="800" width="1049.7" height="20.8" fill="none" stroke="#555" stroke-width="0.9"/>
<text transform="translate(101.8,847.1) scale(1,1.033)" font-size="33.3" text-anchor="middle">8</text>
<text transform="translate(215.3,847.1) scale(1,1.033)" font-size="33.3" text-anchor="middle">10</text>
<text transform="translate(328.8,847.1) scale(1,1.033)" font-size="33.3" text-anchor="middle">12</text>
<text transform="translate(442.3,847.1) scale(1,1.033)" font-size="33.3" text-anchor="middle">14</text>
<text transform="translate(555.8,847.1) scale(1,1.033)" font-size="33.3" text-anchor="middle">16</text>
<text transform="translate(669.2,847.1) scale(1,1.033)" font-size="33.3" text-anchor="middle">18</text>
<text transform="translate(782.7,847.1) scale(1,1.033)" font-size="33.3" text-anchor="middle">20</text>
<text transform="translate(896.2,847.1) scale(1,1.033)" font-size="33.3" text-anchor="middle">22</text>
<text transform="translate(1009.7,847.1) scale(1,1.033)" font-size="33.3" text-anchor="middle">24</text>
</svg></body></html>
